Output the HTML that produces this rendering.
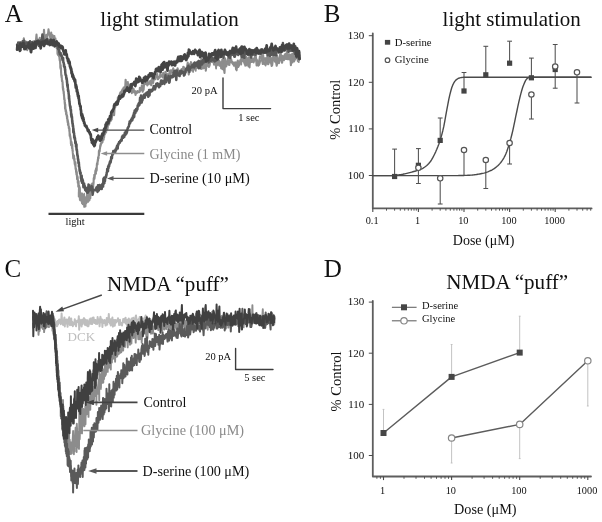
<!DOCTYPE html>
<html>
<head>
<meta charset="utf-8">
<title>Figure</title>
<style>
html,body{margin:0;padding:0;background:#fff;}
body{width:602px;height:522px;overflow:hidden;font-family:"Liberation Serif",serif;}
svg{display:block;filter:grayscale(1);}
svg text{font-family:"Liberation Serif",serif;}
</style>
</head>
<body>
<svg width="602" height="522" viewBox="0 0 602 522">
<rect x="0" y="0" width="602" height="522" fill="#ffffff"/>
<!-- Panel A -->
<text x="4.7" y="21.8" font-size="25" fill="#101010" text-anchor="start" >A</text>
<text x="100.3" y="26.0" font-size="21.5" fill="#101010" text-anchor="start" textLength="138.5" lengthAdjust="spacingAndGlyphs">light stimulation</text>
<path d="M17.1 45.1 L17.4 44.1 L17.8 47.5 L18.2 43.1 L18.7 48.7 L19.3 49.8 L19.9 42.4 L20.4 46.8 L21.0 50.1 L21.6 44.0 L22.1 45.1 L22.7 41.5 L23.2 43.9 L23.8 38.3 L24.4 42.2 L24.9 44.4 L25.5 43.2 L26.1 45.1 L26.6 41.9 L27.2 50.1 L27.7 45.3 L28.3 47.0 L28.9 42.5 L29.4 41.9 L30.0 46.2 L30.5 51.7 L31.1 48.9 L31.6 45.4 L32.2 49.5 L32.7 48.8 L33.2 44.3 L33.8 41.3 L34.3 44.3 L34.9 41.4 L35.4 43.2 L36.0 39.8 L36.5 34.5 L37.0 41.4 L37.6 44.7 L38.1 39.9 L38.7 40.0 L39.2 40.3 L39.8 37.8 L40.3 46.8 L40.8 41.2 L41.4 42.2 L41.9 40.2 L42.4 37.0 L43.0 37.6 L43.5 41.3 L44.0 29.7 L44.5 37.2 L45.0 42.3 L45.5 38.1 L46.0 35.9 L46.5 34.8 L47.0 39.8 L47.5 35.4 L48.0 34.5 L48.5 29.4 L49.1 33.3 L49.6 34.2 L50.1 36.9 L50.7 40.9 L51.2 32.6 L51.8 37.3 L52.3 38.9 L52.7 35.2 L53.1 40.2 L53.5 38.2 L53.8 36.4 L54.1 39.6 L54.4 36.1 L54.6 40.4 L54.8 41.2 L55.0 41.9 L55.2 44.5 L55.4 38.4 L55.6 44.0 L55.8 40.4 L56.0 45.1 L56.2 42.2 L56.4 45.5 L56.5 44.3 L56.7 48.3 L56.8 44.6 L57.0 47.8 L57.1 45.5 L57.2 47.7 L57.3 47.5 L57.4 48.9 L57.5 53.9 L57.6 50.0 L57.7 50.1 L57.9 54.8 L58.0 53.4 L58.1 55.3 L58.2 53.7 L58.3 51.9 L58.4 55.2 L58.5 54.7 L58.6 55.3 L58.8 54.9 L58.9 52.6 L59.0 56.3 L59.1 56.4 L59.2 55.7 L59.3 56.8 L59.4 57.1 L59.5 58.5 L59.7 60.3 L59.8 58.9 L59.9 60.9 L60.0 59.7 L60.0 59.8 L60.1 61.5 L60.2 64.3 L60.3 64.0 L60.3 67.0 L60.4 67.9 L60.5 67.6 L60.6 69.0 L60.6 65.4 L60.7 65.2 L60.8 69.0 L60.8 67.5 L60.9 68.3 L61.0 67.9 L61.0 69.4 L61.1 72.7 L61.2 74.0 L61.2 75.2 L61.3 75.1 L61.4 74.9 L61.5 77.1 L61.5 77.3 L61.6 75.7 L61.7 75.4 L61.7 75.4 L61.8 79.0 L61.9 78.6 L61.9 80.0 L62.0 80.9 L62.1 81.5 L62.2 81.6 L62.2 81.3 L62.3 80.6 L62.4 81.2 L62.4 81.4 L62.5 81.7 L62.6 81.9 L62.6 84.4 L62.7 83.8 L62.7 85.2 L62.8 88.3 L62.9 87.0 L62.9 86.0 L63.0 88.7 L63.0 90.0 L63.1 88.6 L63.2 89.4 L63.2 89.7 L63.3 88.6 L63.3 90.7 L63.4 91.1 L63.5 90.7 L63.5 90.7 L63.6 92.5 L63.6 92.0 L63.7 93.6 L63.8 91.8 L63.8 93.6 L63.9 94.1 L63.9 93.7 L64.0 96.2 L64.0 94.6 L64.1 96.2 L64.2 99.1 L64.2 97.4 L64.3 99.7 L64.3 97.6 L64.4 98.6 L64.5 99.8 L64.5 99.1 L64.6 100.0 L64.6 100.4 L64.7 103.3 L64.8 102.7 L64.8 104.3 L64.9 102.3 L65.0 105.0 L65.0 108.6 L65.1 105.7 L65.2 105.0 L65.3 104.5 L65.4 109.9 L65.4 107.4 L65.5 109.3 L65.6 110.4 L65.7 111.8 L65.8 109.7 L65.9 112.1 L66.0 111.3 L66.1 111.0 L66.1 114.2 L66.2 112.6 L66.3 114.6 L66.4 112.2 L66.5 115.2 L66.6 115.8 L66.7 115.0 L66.8 115.2 L66.9 115.8 L66.9 115.0 L67.0 118.8 L67.1 118.6 L67.2 116.1 L67.3 118.4 L67.4 120.5 L67.5 120.8 L67.6 122.3 L67.6 122.1 L67.7 119.9 L67.8 121.0 L67.9 120.7 L68.0 124.9 L68.1 121.9 L68.2 123.8 L68.3 124.7 L68.4 123.2 L68.5 125.6 L68.6 125.8 L68.7 126.0 L68.8 128.1 L68.9 126.7 L69.0 126.7 L69.1 129.3 L69.2 128.4 L69.3 130.4 L69.4 131.0 L69.5 131.8 L69.5 128.4 L69.6 133.7 L69.7 136.0 L69.8 134.3 L69.9 133.9 L70.0 134.6 L70.1 135.7 L70.2 137.2 L70.3 136.1 L70.4 137.9 L70.5 138.8 L70.6 137.8 L70.7 138.6 L70.8 140.3 L70.9 143.6 L71.0 142.8 L71.1 145.3 L71.2 142.5 L71.3 143.3 L71.4 141.8 L71.5 143.6 L71.6 142.4 L71.7 144.9 L71.8 144.4 L71.9 144.4 L72.0 148.3 L72.1 146.3 L72.2 144.5 L72.3 145.8 L72.4 150.3 L72.5 148.2 L72.5 148.8 L72.6 151.3 L72.7 150.0 L72.8 152.9 L72.9 153.5 L73.0 154.8 L73.1 156.1 L73.2 157.4 L73.3 158.5 L73.4 157.0 L73.5 156.7 L73.6 156.9 L73.7 158.1 L73.8 155.3 L73.9 157.7 L74.0 155.8 L74.1 158.2 L74.2 158.9 L74.3 160.6 L74.4 160.4 L74.5 158.9 L74.5 161.2 L74.6 162.2 L74.7 163.7 L74.8 163.8 L74.9 164.9 L75.0 164.3 L75.1 163.2 L75.2 162.8 L75.3 166.3 L75.4 162.1 L75.5 163.7 L75.5 167.1 L75.6 169.0 L75.7 167.7 L75.8 169.6 L75.9 169.5 L76.0 168.8 L76.1 172.3 L76.2 169.6 L76.3 171.0 L76.4 173.9 L76.5 174.6 L76.5 174.3 L76.6 174.9 L76.7 173.3 L76.8 172.1 L76.9 176.1 L77.0 176.3 L77.1 179.1 L77.2 175.5 L77.3 177.8 L77.4 178.9 L77.5 176.6 L77.6 178.0 L77.7 177.0 L77.8 183.0 L77.9 180.0 L78.0 180.0 L78.1 182.8 L78.2 181.7 L78.3 186.8 L78.4 183.5 L78.5 182.2 L78.6 181.3 L78.7 185.6 L78.8 186.1 L78.9 187.1 L79.0 186.7 L79.1 185.8 L79.2 187.2 L79.3 188.3 L79.4 191.5 L79.5 191.5 L79.6 191.0 L79.7 187.4 L79.8 190.3 L80.0 195.5 L80.1 194.2 L80.2 192.4 L80.3 194.4 L80.4 198.6 L80.5 197.6 L80.7 199.1 L80.8 196.0 L81.0 199.1 L81.2 195.3 L81.5 201.0 L81.7 200.5 L82.1 199.0 L82.4 202.7 L82.8 204.1 L83.3 201.8 L83.8 200.4 L84.3 206.8 L84.8 201.4 L85.3 203.0 L85.9 203.3 L86.4 202.9 L86.9 201.7 L87.3 198.3 L87.7 196.1 L88.1 201.5 L88.4 197.0 L88.7 194.6 L89.0 199.5 L89.2 193.1 L89.4 195.4 L89.6 196.9 L89.8 195.9 L90.0 198.2 L90.2 193.2 L90.3 198.2 L90.5 190.1 L90.7 191.6 L90.8 191.9 L91.0 188.1 L91.1 191.6 L91.3 184.5 L91.4 186.4 L91.6 186.4 L91.7 189.1 L91.9 190.5 L92.0 188.4 L92.2 183.6 L92.3 188.3 L92.5 186.7 L92.6 189.1 L92.7 185.7 L92.9 185.4 L93.0 184.0 L93.1 188.7 L93.2 186.3 L93.3 185.1 L93.5 183.6 L93.6 182.8 L93.7 178.2 L93.8 179.8 L93.9 177.8 L94.1 177.2 L94.2 177.8 L94.3 174.9 L94.4 178.8 L94.6 177.7 L94.7 176.4 L94.8 176.1 L94.9 174.6 L95.0 174.3 L95.2 173.8 L95.3 171.6 L95.4 171.3 L95.5 170.2 L95.6 172.8 L95.8 172.4 L95.9 173.7 L96.0 170.9 L96.1 168.3 L96.2 168.7 L96.3 171.4 L96.4 168.2 L96.5 169.8 L96.6 168.0 L96.7 170.3 L96.8 165.7 L96.9 164.4 L97.0 163.3 L97.1 163.6 L97.2 163.7 L97.3 163.4 L97.4 162.6 L97.5 164.4 L97.6 161.0 L97.6 162.3 L97.7 160.9 L97.8 160.9 L97.9 159.1 L98.0 161.0 L98.1 157.2 L98.2 157.9 L98.3 157.6 L98.4 157.5 L98.5 158.4 L98.6 156.4 L98.7 155.5 L98.8 154.5 L98.9 151.1 L99.0 155.1 L99.1 151.9 L99.2 150.4 L99.3 152.3 L99.5 150.3 L99.6 150.5 L99.7 151.2 L99.8 149.2 L100.0 148.5 L100.1 146.6 L100.2 145.5 L100.4 146.7 L100.5 144.6 L100.6 145.6 L100.8 143.3 L100.9 144.9 L101.1 143.7 L101.2 143.9 L101.4 142.6 L101.6 143.1 L101.8 142.9 L102.0 142.6 L102.2 141.8 L102.4 142.2 L102.6 141.1 L102.8 139.2 L103.0 136.9 L103.2 138.0 L103.4 136.2 L103.6 139.6 L103.8 136.8 L104.1 137.3 L104.3 135.1 L104.5 134.5 L104.7 134.4 L105.0 134.1 L105.2 130.9 L105.4 130.4 L105.6 130.5 L105.9 129.6 L106.1 132.4 L106.3 130.4 L106.5 128.0 L106.8 128.5 L107.0 127.6 L107.2 127.7 L107.5 129.0 L107.7 127.3 L107.9 124.5 L108.2 124.7 L108.4 123.9 L108.6 125.1 L108.8 123.3 L109.1 124.3 L109.3 123.5 L109.5 121.9 L109.7 120.6 L109.9 121.7 L110.2 121.0 L110.4 120.6 L110.5 120.0 L110.7 120.9 L110.9 119.6 L111.1 120.4 L111.3 119.7 L111.5 118.5 L111.7 119.2 L111.8 114.9 L112.0 117.3 L112.2 114.8 L112.4 114.8 L112.6 113.0 L112.8 113.7 L112.9 111.2 L113.1 113.4 L113.3 110.8 L113.5 113.0 L113.7 110.3 L113.9 111.6 L114.1 115.2 L114.2 113.9 L114.4 111.0 L114.6 107.8 L114.8 107.2 L115.0 107.1 L115.2 107.4 L115.3 106.7 L115.5 105.2 L115.7 104.1 L115.9 103.2 L116.1 105.3 L116.3 104.9 L116.5 103.6 L116.6 103.9 L116.8 101.9 L117.1 103.8 L117.3 100.6 L117.5 100.9 L117.7 101.6 L117.9 97.3 L118.2 100.7 L118.4 99.5 L118.6 97.1 L118.9 98.6 L119.1 98.3 L119.4 99.1 L119.6 95.8 L119.8 94.3 L120.1 93.1 L120.3 96.3 L120.5 92.4 L120.8 93.7 L121.1 91.9 L121.3 92.4 L121.6 91.8 L121.9 90.4 L122.1 94.3 L122.4 91.2 L122.7 89.1 L123.0 93.2 L123.3 90.9 L123.6 87.5 L123.9 88.2 L124.2 87.3 L124.5 88.3 L124.9 87.4 L125.2 87.9 L125.6 79.7 L126.1 84.4 L126.5 89.3 L126.9 84.9 L127.4 83.7 L127.8 82.1 L128.2 87.3 L128.5 84.0 L128.9 87.2 L129.2 86.8 L129.5 85.8 L129.8 85.6 L130.1 89.8 L130.4 90.3 L130.8 88.2 L131.2 90.5 L131.5 88.7 L131.9 93.1 L132.3 91.6 L132.8 88.3 L133.2 91.0 L133.7 89.1 L134.1 92.5 L134.6 91.9 L135.1 91.1 L135.5 95.0 L136.0 92.9 L136.5 91.9 L137.0 92.9 L137.5 91.0 L138.0 92.3 L138.5 92.0 L139.0 91.5 L139.5 92.1 L139.9 87.7 L140.4 90.9 L140.9 88.6 L141.4 89.8 L141.8 85.6 L142.3 87.8 L142.7 91.8 L143.2 88.9 L143.6 90.0 L144.1 83.1 L144.5 83.2 L145.0 84.2 L145.5 83.0 L145.9 81.9 L146.4 84.0 L146.8 81.1 L147.3 85.4 L147.7 84.0 L148.2 84.3 L148.6 82.3 L149.1 82.7 L149.5 81.4 L150.0 83.6 L150.5 84.4 L150.9 80.5 L151.4 85.3 L151.8 79.5 L152.3 77.5 L152.7 81.6 L153.2 83.0 L153.6 79.5 L154.1 77.2 L154.6 72.1 L155.1 79.4 L155.6 76.6 L156.1 74.7 L156.6 76.7 L157.2 74.1 L157.7 79.3 L158.2 79.2 L158.8 76.7 L159.3 77.7 L159.8 77.5 L160.4 73.0 L160.9 76.3 L161.5 75.4 L162.0 75.5 L162.6 77.3 L163.2 72.9 L163.7 77.7 L164.3 76.4 L164.9 80.1 L165.4 71.9 L166.0 77.2 L166.6 73.5 L167.1 74.2 L167.7 77.0 L168.3 78.2 L168.8 74.5 L169.4 73.2 L170.0 70.6 L170.5 76.4 L171.1 70.2 L171.6 70.4 L172.2 70.8 L172.7 72.1 L173.2 68.3 L173.8 71.8 L174.3 71.9 L174.8 73.3 L175.4 70.5 L175.9 77.6 L176.5 73.4 L177.0 74.1 L177.6 68.2 L178.2 71.1 L178.7 75.4 L179.3 74.0 L179.9 70.6 L180.4 71.5 L181.0 74.3 L181.6 69.0 L182.1 71.7 L182.7 71.6 L183.3 66.7 L183.8 75.7 L184.4 67.5 L185.0 74.6 L185.5 70.3 L186.1 72.0 L186.6 70.1 L187.2 65.6 L187.7 62.6 L188.2 69.9 L188.8 74.5 L189.3 64.4 L189.8 66.5 L190.4 69.3 L190.9 62.1 L191.5 70.1 L192.0 70.6 L192.5 68.9 L193.1 67.6 L193.6 63.1 L194.1 64.9 L194.7 63.6 L195.2 65.7 L195.7 66.6 L196.3 67.6 L196.8 66.2 L197.3 66.8 L197.9 66.7 L198.4 60.8 L198.9 65.5 L199.5 68.0 L200.1 67.2 L200.6 67.3 L201.2 69.0 L201.8 62.9 L202.3 64.6 L202.9 66.5 L203.5 64.4 L204.1 68.0 L204.7 58.1 L205.2 60.5 L205.8 70.6 L206.4 66.3 L207.0 66.1 L207.6 60.9 L208.1 64.8 L208.7 66.2 L209.3 65.5 L209.9 62.6 L210.4 62.3 L211.0 61.1 L211.6 61.5 L212.1 62.0 L212.7 60.6 L213.3 59.3 L213.9 61.9 L214.4 64.5 L215.0 61.7 L215.6 60.6 L216.1 61.5 L216.7 65.5 L217.2 62.3 L217.8 61.8 L218.4 64.8 L218.9 60.6 L219.5 61.0 L220.1 62.2 L220.6 62.5 L221.2 68.3 L221.8 64.5 L222.3 59.5 L222.9 62.7 L223.4 59.1 L224.0 69.0 L224.5 72.9 L225.1 59.9 L225.6 62.6 L226.2 66.4 L226.7 65.0 L227.3 61.5 L227.8 59.0 L228.4 63.1 L228.9 62.1 L229.5 60.9 L230.0 60.5 L230.6 59.5 L231.2 59.3 L231.7 61.4 L232.2 61.9 L232.8 63.9 L233.4 64.0 L233.9 65.7 L234.5 64.4 L235.0 63.7 L235.6 65.7 L236.1 69.4 L236.7 63.3 L237.3 62.3 L237.8 60.6 L238.4 61.8 L239.0 65.6 L239.5 64.6 L240.1 61.8 L240.7 59.7 L241.2 61.2 L241.8 60.8 L242.3 59.1 L242.9 57.4 L243.5 61.3 L244.0 61.0 L244.6 63.8 L245.2 62.7 L245.7 58.8 L246.3 57.0 L246.9 63.1 L247.4 59.7 L248.0 58.3 L248.6 66.5 L249.1 58.5 L249.7 62.9 L250.3 58.4 L250.9 57.0 L251.4 62.0 L252.0 61.2 L252.6 61.4 L253.1 60.5 L253.7 60.1 L254.3 60.6 L254.9 56.6 L255.4 53.8 L256.0 57.7 L256.6 65.4 L257.1 61.2 L257.7 62.5 L258.3 65.6 L258.9 64.8 L259.4 59.7 L260.0 56.3 L260.5 57.6 L261.1 56.5 L261.7 56.6 L262.2 60.5 L262.8 64.0 L263.3 63.6 L263.9 59.8 L264.4 58.3 L265.0 58.3 L265.6 58.2 L266.1 61.0 L266.7 63.8 L267.2 63.7 L267.8 57.8 L268.3 64.3 L268.9 61.3 L269.4 56.2 L270.0 62.3 L270.6 58.0 L271.1 63.2 L271.7 66.0 L272.2 65.2 L272.8 59.8 L273.3 56.5 L273.9 60.1 L274.5 58.6 L275.0 61.6 L275.6 54.5 L276.1 62.3 L276.7 65.7 L277.3 62.5 L277.8 58.7 L278.4 62.7 L279.0 63.2 L279.5 58.6 L280.1 55.9 L280.7 51.9 L281.2 60.4 L281.8 56.2 L282.3 59.7 L282.9 58.6 L283.5 59.5 L284.0 57.8 L284.6 55.3 L285.2 54.0 L285.7 58.3 L286.3 56.8 L286.9 51.3 L287.4 54.8 L288.0 59.3 L288.6 54.6 L289.1 54.9 L289.7 54.4 L290.3 55.3 L290.9 65.2 L291.4 56.9 L292.0 54.1 L292.6 56.0 L293.1 58.3 L293.7 52.3 L294.3 52.2 L294.9 59.7 L295.4 55.4 L296.0 56.0 L296.6 56.6 L297.1 55.3 L297.7 54.6 L298.2 56.4 L298.7 61.9 L299.0 51.8 L299.4 52.7" fill="none" stroke="#8c8c8c" stroke-width="2.1" stroke-linejoin="round" stroke-linecap="round" />
<path d="M78.6 192.2 L78.6 196.8 L78.7 189.1 L78.7 190.0 L78.8 187.8 L78.9 188.0 L79.0 190.0 L79.0 194.0 L79.1 191.3 L79.2 189.5 L79.3 195.5 L79.3 196.0 L79.4 193.3 L79.5 190.4 L79.6 197.9 L79.7 199.9 L79.7 188.2 L79.8 196.2 L79.9 192.4 L80.0 200.5 L80.0 194.1 L80.1 199.5 L80.2 197.7 L80.3 195.4 L80.4 196.1 L80.5 196.4 L80.6 196.8 L80.7 193.1 L80.9 193.0 L81.0 196.5 L81.2 198.7 L81.4 195.0 L81.6 201.0 L81.8 203.1 L81.9 194.7 L82.1 196.1 L82.3 193.4 L82.5 201.5 L82.7 194.6 L82.9 199.5 L83.1 198.2 L83.3 202.7 L83.5 204.1 L83.7 203.3 L83.9 201.1 L84.2 193.6 L84.4 199.7 L84.6 199.1 L84.8 197.9 L85.1 202.2 L85.3 201.1 L85.5 203.0 L85.7 206.6 L85.9 196.8 L86.1 197.4 L86.3 198.6 L86.5 198.7 L86.7 194.5 L86.9 195.0 L87.1 196.0 L87.2 192.8 L87.4 199.3 L87.6 196.0 L87.8 191.4 L88.0 196.0 L88.1 202.0 L88.3 193.5 L88.4 195.4 L88.5 195.2 L88.6 192.7 L88.7 199.4 L88.8 194.8 L88.9 198.7 L89.0 197.7 L89.1 195.2 L89.2 199.0 L89.2 192.4 L89.3 197.5 L89.4 200.7 L89.5 197.6 L89.6 200.1 L89.7 200.3 L89.7 194.1 L89.8 190.9 L89.9 195.2 L90.0 194.5 L90.1 189.4 L90.2 194.0 L90.2 191.4 L90.3 189.0 L90.4 189.3 L90.4 193.0" fill="none" stroke="#909090" stroke-width="1.6" stroke-linejoin="round" stroke-linecap="round" />
<path d="M192.3 67.9 L192.6 66.0 L193.1 72.0 L193.6 63.0 L194.1 65.4 L194.7 69.3 L195.2 69.2 L195.7 70.8 L196.3 65.3 L196.8 67.5 L197.3 63.6 L197.9 64.5 L198.4 68.1 L198.9 68.9 L199.5 66.8 L200.0 63.9 L200.6 68.6 L201.2 58.7 L201.8 63.8 L202.3 66.1 L202.9 68.7 L203.5 66.1 L204.1 63.3 L204.7 64.0 L205.3 61.8 L205.8 66.2 L206.4 65.3 L207.0 62.4 L207.6 62.3 L208.1 61.6 L208.7 67.0 L209.3 66.9 L209.9 63.2 L210.4 58.8 L211.0 59.2 L211.6 60.4 L212.1 61.5 L212.7 62.3 L213.3 60.7 L213.9 64.6 L214.4 63.8 L215.0 58.8 L215.6 64.4 L216.1 68.7 L216.7 58.5 L217.2 62.2 L217.8 61.1 L218.4 63.8 L218.9 64.0 L219.5 65.9 L220.1 63.5 L220.6 64.2 L221.2 63.5 L221.8 62.0 L222.3 69.1 L222.9 64.9 L223.4 69.9 L224.0 68.9 L224.5 65.0 L225.1 58.2 L225.7 62.9 L226.2 62.8 L226.8 62.6 L227.3 64.0 L227.8 62.1 L228.4 63.0 L228.9 65.1 L229.5 65.1 L230.1 58.1 L230.6 60.5 L231.2 62.5 L231.7 62.5 L232.2 62.5 L232.8 62.0 L233.4 62.9 L233.9 63.9 L234.5 63.2 L235.0 62.1 L235.6 66.5 L236.1 62.5 L236.7 70.5 L237.3 64.3 L237.8 66.4 L238.4 67.1 L239.0 62.3 L239.5 63.3 L240.1 61.5 L240.7 59.1 L241.2 64.7 L241.8 56.9 L242.3 60.2 L242.9 60.1 L243.5 61.6 L244.0 60.0 L244.6 62.3 L245.2 65.9 L245.7 62.7 L246.3 58.3 L246.9 65.6 L247.4 63.6 L248.0 63.3 L248.6 57.9 L249.1 59.1 L249.7 67.5 L250.3 57.1 L250.9 61.6 L251.4 58.0 L252.0 60.9 L252.6 61.9 L253.1 58.3 L253.7 62.6 L254.3 59.6 L254.9 58.8 L255.4 57.0 L256.0 60.7 L256.6 59.4 L257.1 61.3 L257.7 60.5 L258.3 62.5 L258.9 63.0 L259.4 64.6 L260.0 62.0 L260.6 61.0 L261.1 60.2 L261.7 53.3 L262.2 57.8 L262.8 61.5 L263.3 54.9 L263.9 62.2 L264.4 64.3 L265.0 62.6 L265.6 65.7 L266.1 58.3 L266.7 62.0 L267.2 55.0 L267.8 57.0 L268.3 55.3 L268.9 49.5 L269.4 58.6 L270.0 62.3 L270.6 57.2 L271.1 59.2 L271.7 63.6 L272.2 58.1 L272.8 60.3 L273.3 59.2 L273.9 52.8 L274.4 60.4 L275.0 56.3 L275.6 60.2 L276.1 55.6 L276.7 58.8 L277.3 55.7 L277.8 60.5 L278.4 62.4 L279.0 60.7 L279.5 57.9 L280.1 54.6 L280.7 60.2 L281.2 60.1 L281.8 62.9 L282.3 62.8 L282.9 55.6 L283.5 60.0 L284.0 60.4 L284.6 56.4 L285.2 55.1 L285.7 59.2 L286.3 54.4 L286.9 59.1 L287.4 59.0 L288.0 56.3 L288.6 56.1 L289.1 56.4 L289.7 59.7 L290.3 59.4 L290.9 55.9 L291.4 60.8 L292.0 61.8 L292.6 62.6 L293.1 55.6 L293.7 58.3 L294.3 61.5 L294.9 56.0 L295.4 58.7 L296.0 54.8 L296.6 58.4 L297.1 55.5 L297.7 61.1 L298.3 53.2 L298.9 54.0 L299.3 55.3 L299.7 55.1" fill="none" stroke="#8c8c8c" stroke-width="1.8" stroke-linejoin="round" stroke-linecap="round" />
<path d="M17.1 44.9 L17.4 45.0 L17.8 48.6 L18.2 42.5 L18.7 46.8 L19.3 44.8 L19.9 47.7 L20.4 42.6 L21.0 43.3 L21.6 45.1 L22.1 44.7 L22.7 41.2 L23.2 42.1 L23.8 40.7 L24.4 40.9 L24.9 44.4 L25.5 49.0 L26.1 44.9 L26.6 45.4 L27.2 42.6 L27.7 44.1 L28.3 47.4 L28.9 45.5 L29.4 44.8 L30.0 41.3 L30.6 45.6 L31.1 42.8 L31.7 43.8 L32.3 42.0 L32.8 43.6 L33.4 48.8 L34.0 46.0 L34.5 43.8 L35.1 42.7 L35.7 48.0 L36.2 44.4 L36.8 44.1 L37.3 42.5 L37.9 41.4 L38.5 40.5 L39.0 46.1 L39.6 46.0 L40.2 41.5 L40.7 43.1 L41.3 39.9 L41.9 41.0 L42.4 34.5 L43.0 38.4 L43.6 40.7 L44.1 43.6 L44.7 42.1 L45.2 42.1 L45.8 40.4 L46.4 42.7 L46.9 42.7 L47.5 39.2 L48.1 44.3 L48.6 42.0 L49.2 41.4 L49.8 45.2 L50.3 39.9 L50.9 41.4 L51.4 42.8 L52.0 40.3 L52.6 40.4 L53.1 41.7 L53.7 40.0 L54.2 43.1 L54.8 41.9 L55.2 42.1 L55.6 42.8 L56.0 42.3 L56.4 42.9 L56.7 42.4 L57.0 46.1 L57.2 44.5 L57.5 45.6 L57.8 45.6 L58.0 48.7 L58.2 49.0 L58.5 48.3 L58.7 49.5 L59.0 49.2 L59.2 50.3 L59.4 52.6 L59.6 52.5 L59.8 54.3 L60.0 53.3 L60.2 53.7 L60.4 53.2 L60.6 53.0 L60.8 55.2 L61.0 55.5 L61.1 55.3 L61.3 54.5 L61.5 56.3 L61.7 56.9 L61.9 56.0 L62.0 56.2 L62.2 58.8 L62.4 58.5 L62.6 60.3 L62.8 59.3 L62.9 60.7 L63.1 57.9 L63.3 62.1 L63.4 62.5 L63.5 62.2 L63.7 63.2 L63.8 63.1 L63.9 64.5 L64.0 66.4 L64.1 64.4 L64.2 65.4 L64.3 66.2 L64.4 66.2 L64.5 66.1 L64.6 67.6 L64.7 68.0 L64.8 66.7 L64.9 67.4 L65.0 70.2 L65.1 70.1 L65.2 69.3 L65.2 70.7 L65.3 72.8 L65.4 73.3 L65.5 74.4 L65.6 74.9 L65.7 75.2 L65.8 75.0 L65.9 75.5 L66.0 75.7 L66.1 75.3 L66.2 77.4 L66.3 76.9 L66.4 78.9 L66.5 77.7 L66.6 78.3 L66.7 78.3 L66.8 80.9 L66.9 79.8 L67.0 82.8 L67.1 81.5 L67.1 81.7 L67.2 85.4 L67.3 84.6 L67.4 84.4 L67.4 85.5 L67.5 87.0 L67.6 87.0 L67.6 84.6 L67.7 84.6 L67.8 87.5 L67.9 88.0 L67.9 90.1 L68.0 90.4 L68.1 89.5 L68.1 90.0 L68.2 91.7 L68.3 90.3 L68.4 92.0 L68.4 92.1 L68.5 91.6 L68.6 93.7 L68.6 93.3 L68.7 94.0 L68.8 94.9 L68.9 97.4 L68.9 98.7 L69.0 98.8 L69.1 95.8 L69.1 98.4 L69.2 98.0 L69.3 99.4 L69.4 100.8 L69.4 101.5 L69.5 101.0 L69.6 101.6 L69.6 102.9 L69.7 103.1 L69.8 104.8 L69.9 105.7 L69.9 105.8 L70.0 105.3 L70.1 106.8 L70.2 106.4 L70.2 106.8 L70.3 107.1 L70.4 108.6 L70.5 106.6 L70.6 110.2 L70.6 107.5 L70.7 108.7 L70.8 109.1 L70.9 109.3 L70.9 111.4 L71.0 110.2 L71.1 114.9 L71.2 113.6 L71.3 113.6 L71.3 114.6 L71.4 116.6 L71.5 114.2 L71.6 115.5 L71.7 115.8 L71.7 117.4 L71.8 117.6 L71.9 116.4 L72.0 117.2 L72.1 119.4 L72.1 119.5 L72.2 121.5 L72.3 122.2 L72.4 120.8 L72.4 123.5 L72.5 122.5 L72.6 123.7 L72.7 124.7 L72.8 123.7 L72.8 126.2 L72.9 125.5 L73.0 125.5 L73.1 126.3 L73.2 127.6 L73.3 132.1 L73.3 129.3 L73.4 129.4 L73.5 128.8 L73.6 130.8 L73.7 131.2 L73.8 131.4 L73.9 133.3 L74.0 132.7 L74.0 133.3 L74.1 133.3 L74.2 137.7 L74.3 135.6 L74.4 135.7 L74.5 136.8 L74.6 138.8 L74.6 137.7 L74.7 137.1 L74.8 138.8 L74.9 139.6 L75.0 138.0 L75.1 140.0 L75.2 140.3 L75.3 143.2 L75.3 142.7 L75.4 143.6 L75.5 142.5 L75.6 142.2 L75.7 141.8 L75.8 142.6 L75.9 145.0 L76.0 144.3 L76.0 146.7 L76.1 144.1 L76.2 146.9 L76.3 146.3 L76.4 147.7 L76.5 144.6 L76.5 149.2 L76.6 150.2 L76.7 149.6 L76.8 149.7 L76.9 150.8 L76.9 149.5 L77.0 151.2 L77.1 152.1 L77.2 154.0 L77.3 154.8 L77.3 155.0 L77.4 155.3 L77.5 154.9 L77.6 155.3 L77.6 156.6 L77.7 156.5 L77.8 155.9 L77.9 159.1 L78.0 158.2 L78.0 159.5 L78.1 158.9 L78.2 160.8 L78.3 159.6 L78.4 161.3 L78.4 163.1 L78.5 162.9 L78.6 163.4 L78.7 163.4 L78.8 163.4 L78.9 162.5 L78.9 166.5 L79.0 164.0 L79.1 166.7 L79.2 166.6 L79.3 167.2 L79.4 167.9 L79.6 170.9 L79.7 170.8 L79.8 171.7 L79.9 170.1 L80.0 171.1 L80.1 173.2 L80.2 173.6 L80.3 172.1 L80.4 173.4 L80.6 172.4 L80.7 174.4 L80.8 175.1 L80.9 178.1 L81.0 178.6 L81.1 177.3 L81.2 176.8 L81.3 179.3 L81.4 180.9 L81.6 175.4 L81.7 176.1 L81.8 177.9 L82.0 182.7 L82.1 179.7 L82.3 180.9 L82.5 179.3 L82.7 181.7 L82.9 180.5 L83.2 183.7 L83.4 187.2 L83.6 184.3 L83.8 186.9 L84.1 183.4 L84.3 186.0 L84.6 185.3 L84.9 187.9 L85.2 190.2 L85.6 187.7 L85.9 189.2 L86.3 191.3 L86.7 187.9 L87.2 192.8 L87.6 189.1 L88.1 192.4 L88.5 184.5 L89.0 185.2 L89.5 190.6 L90.0 190.1 L90.5 188.1 L91.0 187.4 L91.5 186.2 L92.1 186.6 L92.6 194.8 L93.2 191.2 L93.7 190.0 L94.3 190.1 L94.8 189.8 L95.4 190.2 L95.9 189.0 L96.5 187.3 L97.0 187.3 L97.5 191.9 L98.0 185.2 L98.5 190.8 L99.0 190.1 L99.6 185.0 L100.1 187.1 L100.7 188.6 L101.2 185.2 L101.7 189.1 L102.1 184.9 L102.5 183.8 L102.8 185.3 L103.1 186.6 L103.4 178.7 L103.6 184.0 L103.7 183.7 L103.9 181.2 L104.0 177.7 L104.2 179.2 L104.3 182.4 L104.4 183.1 L104.6 178.8 L104.7 181.2 L104.9 178.9 L105.0 180.9 L105.1 177.9 L105.3 178.6 L105.4 177.6 L105.5 176.8 L105.7 177.4 L105.8 176.9 L106.0 176.7 L106.1 177.1 L106.2 175.0 L106.4 175.4 L106.6 174.7 L106.7 172.6 L106.9 172.8 L107.1 172.4 L107.2 169.1 L107.4 171.0 L107.6 170.6 L107.8 169.8 L108.0 171.1 L108.1 166.5 L108.3 166.6 L108.5 168.2 L108.7 165.3 L108.9 166.2 L109.1 166.4 L109.3 164.0 L109.5 164.7 L109.7 162.5 L109.8 163.5 L110.0 161.4 L110.2 161.7 L110.4 161.1 L110.6 162.4 L110.8 161.4 L111.0 160.0 L111.2 157.1 L111.4 157.3 L111.5 157.8 L111.7 158.6 L111.9 158.3 L112.1 156.1 L112.3 153.8 L112.5 155.2 L112.7 153.7 L112.9 152.6 L113.1 154.0 L113.3 151.0 L113.5 151.6 L113.8 151.6 L114.0 151.3 L114.3 150.9 L114.6 150.8 L114.9 151.4 L115.2 152.2 L115.4 149.5 L115.7 150.3 L116.0 150.4 L116.3 148.9 L116.5 147.6 L116.8 147.7 L117.1 145.7 L117.4 146.4 L117.7 148.6 L118.0 144.2 L118.2 144.7 L118.5 144.7 L118.8 143.3 L119.1 141.9 L119.5 142.9 L119.8 142.7 L120.1 140.9 L120.4 141.4 L120.7 141.2 L121.0 139.8 L121.4 140.3 L121.7 140.5 L122.0 137.1 L122.3 136.7 L122.6 135.9 L122.9 137.8 L123.2 137.8 L123.5 136.7 L123.7 135.3 L124.0 135.9 L124.3 136.9 L124.6 134.1 L124.9 132.5 L125.2 135.1 L125.4 133.3 L125.7 134.5 L126.0 131.1 L126.2 131.6 L126.5 133.5 L126.7 132.6 L127.0 132.0 L127.2 130.7 L127.5 129.0 L127.7 128.0 L128.0 128.1 L128.2 127.2 L128.5 126.9 L128.7 126.8 L128.9 126.4 L129.2 123.7 L129.4 124.4 L129.6 121.6 L129.9 123.1 L130.1 123.2 L130.3 121.0 L130.6 121.0 L130.8 120.8 L131.0 119.9 L131.3 121.2 L131.5 119.5 L131.8 118.4 L132.1 118.1 L132.3 120.3 L132.6 118.7 L132.9 116.2 L133.1 118.3 L133.4 115.1 L133.7 116.4 L133.9 113.1 L134.2 116.9 L134.5 111.8 L134.7 110.4 L135.0 112.1 L135.3 113.0 L135.6 110.1 L135.8 110.6 L136.1 109.0 L136.4 111.3 L136.6 110.2 L136.9 110.0 L137.2 108.2 L137.4 109.4 L137.7 105.4 L137.9 105.9 L138.1 105.9 L138.3 106.1 L138.5 103.8 L138.7 105.8 L138.9 105.3 L139.1 102.9 L139.2 102.7 L139.4 105.2 L139.6 103.7 L139.8 102.4 L139.9 100.1 L140.1 97.7 L140.3 103.3 L140.5 97.8 L140.7 100.2 L141.0 95.6 L141.3 99.6 L141.7 102.5 L142.0 99.7 L142.4 100.6 L142.8 98.6 L143.3 96.6 L143.8 94.8 L144.2 96.8 L144.7 97.8 L145.1 95.9 L145.6 93.6 L146.0 94.9 L146.5 92.7 L146.9 92.8 L147.3 92.3 L147.8 92.6 L148.2 96.8 L148.7 92.1 L149.1 90.1 L149.5 95.5 L150.0 89.9 L150.4 91.1 L150.8 90.0 L151.2 91.6 L151.7 89.9 L152.1 91.1 L152.5 90.5 L152.9 89.8 L153.3 88.0 L153.8 86.0 L154.2 88.5 L154.6 87.5 L155.0 89.5 L155.4 88.0 L155.9 86.2 L156.3 83.8 L156.7 85.9 L157.2 84.6 L157.6 83.4 L158.0 85.0 L158.5 84.9 L158.9 87.3 L159.4 86.5 L159.8 84.1 L160.2 86.1 L160.7 82.2 L161.1 80.4 L161.6 80.5 L162.0 84.1 L162.5 82.6 L163.0 82.2 L163.4 80.8 L163.9 83.1 L164.4 83.9 L164.9 80.3 L165.5 75.3 L166.0 82.2 L166.5 80.1 L167.0 79.1 L167.5 78.4 L168.0 79.7 L168.5 76.1 L169.0 82.7 L169.5 82.3 L170.0 78.8 L170.5 76.8 L171.0 76.1 L171.5 77.4 L172.0 76.9 L172.5 77.2 L173.0 76.9 L173.5 72.8 L173.9 76.2 L174.4 71.1 L174.9 75.5 L175.4 70.9 L175.8 72.6 L176.3 80.0 L176.8 70.4 L177.3 72.5 L177.7 75.1 L178.2 73.7 L178.7 73.7 L179.2 75.6 L179.6 76.0 L180.1 71.2 L180.6 73.5 L181.1 70.7 L181.6 72.4 L182.1 72.8 L182.6 71.7 L183.1 72.0 L183.6 73.3 L184.1 75.4 L184.6 73.8 L185.2 72.8 L185.7 70.1 L186.2 68.8 L186.8 68.8 L187.3 67.8 L187.8 69.7 L188.4 65.7 L188.9 67.3 L189.4 72.1 L189.9 68.5 L190.5 68.2 L191.0 66.7 L191.5 66.9 L192.1 65.2 L192.6 67.2 L193.1 65.1 L193.6 64.1 L194.2 67.6 L194.7 62.5 L195.2 62.8 L195.8 65.9 L196.3 65.6 L196.8 63.6 L197.4 62.0 L197.9 63.9 L198.4 67.8 L198.9 61.1 L199.5 64.9 L200.0 67.8 L200.6 62.3 L201.1 61.3 L201.6 64.6 L202.2 64.2 L202.7 61.8 L203.3 59.2 L203.8 62.5 L204.4 59.2 L204.9 60.1 L205.5 60.7 L206.0 60.2 L206.5 58.0 L207.1 60.1 L207.6 57.7 L208.2 60.8 L208.7 62.4 L209.3 58.1 L209.8 57.2 L210.4 59.3 L210.9 60.9 L211.5 57.2 L212.0 60.3 L212.5 60.1 L213.1 58.5 L213.6 60.4 L214.2 58.4 L214.7 61.4 L215.3 60.0 L215.8 56.4 L216.4 60.4 L216.9 57.0 L217.5 53.9 L218.0 59.3 L218.5 54.2 L219.1 55.5 L219.6 57.2 L220.2 54.2 L220.7 54.7 L221.3 56.6 L221.8 55.8 L222.4 51.9 L222.9 54.3 L223.5 57.7 L224.0 51.7 L224.6 54.2 L225.2 50.5 L225.7 51.8 L226.3 54.5 L226.9 52.4 L227.4 52.8 L228.0 53.5 L228.6 57.5 L229.1 52.7 L229.7 54.7 L230.3 57.9 L230.9 52.8 L231.4 53.8 L232.0 53.3 L232.6 54.8 L233.1 53.3 L233.7 51.7 L234.3 56.7 L234.8 56.8 L235.4 53.8 L236.0 54.2 L236.5 53.6 L237.1 51.0 L237.7 53.1 L238.2 55.0 L238.8 52.8 L239.3 53.7 L239.9 52.7 L240.5 52.9 L241.0 47.8 L241.6 57.0 L242.2 56.9 L242.7 54.2 L243.3 54.2 L243.9 54.1 L244.4 58.0 L245.0 51.4 L245.5 49.7 L246.1 50.9 L246.7 49.8 L247.2 53.2 L247.8 54.0 L248.3 54.5 L248.9 55.3 L249.4 48.9 L250.0 52.0 L250.6 53.9 L251.1 57.6 L251.7 53.7 L252.2 53.5 L252.8 54.6 L253.3 53.3 L253.9 53.4 L254.4 54.5 L255.0 50.6 L255.6 54.7 L256.1 51.7 L256.7 48.8 L257.2 52.7 L257.8 49.7 L258.3 52.7 L258.9 51.3 L259.4 51.0 L260.0 50.6 L260.6 49.7 L261.1 53.5 L261.7 50.5 L262.2 49.6 L262.8 51.0 L263.3 52.4 L263.9 52.0 L264.4 51.5 L265.0 49.5 L265.6 51.9 L266.1 52.7 L266.7 51.1 L267.2 52.8 L267.8 55.3 L268.3 51.7 L268.9 53.8 L269.4 54.0 L270.0 55.9 L270.6 50.2 L271.1 54.8 L271.7 52.6 L272.2 52.9 L272.8 48.4 L273.3 55.1 L273.9 51.9 L274.5 53.5 L275.0 54.7 L275.6 48.9 L276.1 55.3 L276.7 50.2 L277.3 48.7 L277.8 49.5 L278.4 50.2 L279.0 50.8 L279.5 49.2 L280.1 50.6 L280.7 52.0 L281.2 50.1 L281.8 49.0 L282.3 51.5 L282.9 43.1 L283.5 49.0 L284.0 48.2 L284.6 48.6 L285.2 50.2 L285.7 47.1 L286.3 49.0 L286.9 49.1 L287.5 49.2 L288.0 48.6 L288.6 51.9 L289.2 49.9 L289.8 48.2 L290.4 49.8 L291.0 50.9 L291.6 49.0 L292.2 50.2 L292.7 49.3 L293.2 50.6 L293.7 49.7 L294.2 48.3 L294.6 51.1 L295.0 53.9 L295.3 46.2 L295.7 48.2 L296.0 51.8 L296.3 51.8 L296.7 49.7 L297.0 57.2 L297.3 52.7 L297.7 54.0 L298.0 52.7 L298.3 57.1 L298.7 56.0 L299.0 53.7 L299.2 58.8 L299.4 56.8 L299.6 58.9" fill="none" stroke="#585858" stroke-width="2.5" stroke-linejoin="round" stroke-linecap="round" />
<path d="M17.1 49.7 L17.4 45.5 L17.8 48.1 L18.2 49.2 L18.7 49.0 L19.3 46.3 L19.9 50.8 L20.4 43.6 L21.0 47.0 L21.6 46.0 L22.1 45.8 L22.7 46.7 L23.2 43.0 L23.8 43.4 L24.4 49.1 L24.9 47.9 L25.5 48.7 L26.1 46.5 L26.6 47.4 L27.2 46.2 L27.7 45.6 L28.3 46.0 L28.9 42.6 L29.4 48.4 L30.0 44.6 L30.6 45.4 L31.1 52.1 L31.7 45.4 L32.3 44.1 L32.8 43.3 L33.4 48.5 L34.0 46.3 L34.5 48.0 L35.1 41.9 L35.7 46.0 L36.2 41.8 L36.8 43.4 L37.3 41.1 L37.9 41.5 L38.5 43.3 L39.0 41.6 L39.6 42.5 L40.2 44.9 L40.7 48.4 L41.3 44.5 L41.9 42.2 L42.4 44.4 L43.0 41.6 L43.6 44.2 L44.1 46.0 L44.7 43.9 L45.2 40.9 L45.8 43.8 L46.4 43.3 L46.9 39.5 L47.5 42.6 L48.1 43.6 L48.6 43.2 L49.2 42.6 L49.8 42.3 L50.3 44.7 L50.9 39.8 L51.4 43.0 L52.0 41.2 L52.5 45.2 L53.1 43.6 L53.6 40.2 L54.2 44.6 L54.7 46.3 L55.3 44.3 L55.8 42.0 L56.4 43.1 L56.9 41.5 L57.3 44.1 L57.8 44.9 L58.3 43.4 L58.7 43.5 L59.1 45.5 L59.5 46.7 L60.0 46.0 L60.4 46.3 L60.8 45.6 L61.1 48.2 L61.5 47.7 L61.8 46.5 L62.1 46.3 L62.4 46.9 L62.7 47.1 L63.0 49.9 L63.2 50.2 L63.5 51.4 L63.7 51.7 L64.0 51.1 L64.2 54.0 L64.5 54.4 L64.8 52.6 L65.0 53.2 L65.2 51.9 L65.5 52.1 L65.7 50.4 L66.0 53.3 L66.2 53.8 L66.4 55.0 L66.7 54.2 L66.9 56.3 L67.1 58.2 L67.3 57.4 L67.5 58.6 L67.7 59.6 L67.9 60.3 L68.1 61.5 L68.3 59.2 L68.5 59.9 L68.7 63.2 L68.9 61.6 L69.1 61.4 L69.3 63.6 L69.5 61.6 L69.7 62.8 L69.9 66.1 L70.1 66.8 L70.3 66.1 L70.5 68.0 L70.7 67.2 L70.8 67.8 L71.0 69.5 L71.2 68.6 L71.4 69.9 L71.5 73.2 L71.7 71.4 L71.9 71.9 L72.0 74.2 L72.2 74.5 L72.4 76.5 L72.6 74.6 L72.7 74.3 L72.9 77.1 L73.1 76.5 L73.3 76.0 L73.4 78.7 L73.6 77.4 L73.8 78.4 L73.9 77.9 L74.1 78.5 L74.3 80.0 L74.4 79.1 L74.6 81.4 L74.7 80.5 L74.9 79.8 L75.0 79.6 L75.1 79.9 L75.3 82.2 L75.4 83.6 L75.5 84.5 L75.6 86.2 L75.7 84.8 L75.8 87.7 L76.0 87.7 L76.1 85.0 L76.2 86.2 L76.3 86.6 L76.4 88.4 L76.5 86.7 L76.7 88.8 L76.8 91.4 L76.9 91.3 L77.0 89.7 L77.1 90.2 L77.2 90.6 L77.3 92.1 L77.5 91.8 L77.6 94.1 L77.7 94.7 L77.8 94.8 L77.9 93.2 L78.0 96.4 L78.2 96.4 L78.3 96.3 L78.4 97.8 L78.5 95.5 L78.6 95.7 L78.7 96.4 L78.8 98.6 L78.9 100.0 L79.0 99.1 L79.2 101.1 L79.3 103.0 L79.4 103.8 L79.5 103.4 L79.6 103.3 L79.7 104.3 L79.8 104.6 L79.9 105.3 L80.0 105.2 L80.1 106.3 L80.2 105.7 L80.3 106.6 L80.5 106.8 L80.6 106.1 L80.7 109.8 L80.8 109.2 L80.9 110.1 L81.0 110.4 L81.1 111.3 L81.2 114.1 L81.3 114.0 L81.4 115.6 L81.5 115.2 L81.6 113.9 L81.8 116.1 L81.9 116.0 L82.0 117.0 L82.1 117.7 L82.2 114.3 L82.3 116.4 L82.5 116.5 L82.6 115.9 L82.8 119.6 L82.9 118.3 L83.1 119.9 L83.3 117.7 L83.4 121.0 L83.6 119.2 L83.8 120.7 L84.0 121.6 L84.1 123.2 L84.3 122.2 L84.5 123.6 L84.7 124.1 L84.9 125.5 L85.2 125.6 L85.5 126.2 L85.7 126.3 L86.0 126.7 L86.4 126.0 L86.7 127.1 L87.0 128.4 L87.3 128.3 L87.6 129.7 L87.8 130.8 L88.1 130.3 L88.3 130.6 L88.6 129.9 L88.8 131.4 L89.1 132.5 L89.3 132.2 L89.5 132.2 L89.7 132.2 L89.9 133.0 L90.1 134.4 L90.3 134.2 L90.5 134.6 L90.7 134.2 L90.9 136.2 L91.0 138.1 L91.2 138.5 L91.4 140.4 L91.6 140.3 L91.7 140.5 L91.9 142.6 L92.1 140.9 L92.2 141.4 L92.4 141.5 L92.6 139.4 L92.8 141.4 L92.9 141.1 L93.1 143.9 L93.3 144.4 L93.5 144.2 L93.7 143.4 L93.9 143.2 L94.1 144.0 L94.3 146.1 L94.5 144.3 L94.8 145.4 L95.0 141.3 L95.3 140.7 L95.5 142.6 L95.8 140.3 L96.0 140.4 L96.2 139.9 L96.5 140.3 L96.7 138.9 L97.0 139.2 L97.2 137.1 L97.5 137.6 L97.7 138.8 L97.9 136.6 L98.2 135.6 L98.4 136.7 L98.7 138.8 L98.9 136.6 L99.1 138.0 L99.4 137.5 L99.6 137.3 L99.8 140.5 L100.1 140.6 L100.3 140.6 L100.5 139.1 L100.8 137.4 L101.0 136.5 L101.3 139.7 L101.5 136.0 L101.7 138.3 L102.0 134.5 L102.2 135.9 L102.4 133.5 L102.7 134.0 L102.9 135.3 L103.1 134.6 L103.3 134.5 L103.5 132.9 L103.8 132.4 L104.0 129.4 L104.2 132.1 L104.3 128.8 L104.5 131.6 L104.7 129.7 L104.9 129.0 L105.1 127.5 L105.3 127.8 L105.5 128.6 L105.6 124.6 L105.8 126.2 L106.0 124.9 L106.2 126.6 L106.4 123.6 L106.6 122.6 L106.8 123.5 L107.1 124.3 L107.3 123.5 L107.5 124.0 L107.7 123.2 L107.9 121.6 L108.1 120.8 L108.3 119.4 L108.5 123.0 L108.7 120.3 L108.9 119.8 L109.2 118.5 L109.4 120.2 L109.6 119.6 L109.8 118.3 L110.0 116.2 L110.3 119.0 L110.5 116.2 L110.7 116.9 L111.0 115.7 L111.2 112.8 L111.4 112.0 L111.7 112.6 L111.9 111.5 L112.2 110.6 L112.4 110.8 L112.6 111.5 L112.9 110.1 L113.1 109.4 L113.4 109.2 L113.6 108.7 L113.8 108.2 L114.1 105.3 L114.4 105.6 L114.6 104.2 L114.9 104.7 L115.2 104.2 L115.5 104.8 L115.9 103.2 L116.2 103.6 L116.5 102.2 L116.9 104.4 L117.2 104.5 L117.6 104.1 L117.9 101.2 L118.3 101.7 L118.6 99.4 L119.0 98.6 L119.3 96.1 L119.7 98.8 L120.0 98.7 L120.3 98.1 L120.7 97.2 L121.0 96.3 L121.4 96.9 L121.7 97.0 L122.1 94.8 L122.4 94.7 L122.7 95.3 L123.1 96.3 L123.4 95.4 L123.8 94.3 L124.1 93.6 L124.5 90.9 L124.9 91.8 L125.3 90.4 L125.7 90.1 L126.0 90.6 L126.5 89.4 L126.9 88.6 L127.3 87.5 L127.7 90.6 L128.1 88.6 L128.5 90.9 L128.9 89.2 L129.3 92.0 L129.8 90.9 L130.2 87.4 L130.6 88.5 L131.0 84.4 L131.4 87.8 L131.9 84.2 L132.3 85.3 L132.7 83.8 L133.1 83.9 L133.6 84.1 L134.0 82.8 L134.4 81.8 L134.9 83.7 L135.3 86.1 L135.7 83.7 L136.2 78.6 L136.6 80.3 L137.1 82.4 L137.6 80.8 L138.1 79.1 L138.6 81.9 L139.2 76.9 L139.7 77.5 L140.3 78.6 L140.8 80.3 L141.4 81.2 L141.9 81.3 L142.4 83.0 L143.0 80.2 L143.5 80.6 L144.0 77.9 L144.5 77.5 L145.1 81.4 L145.6 76.5 L146.1 77.8 L146.6 78.6 L147.1 80.2 L147.6 78.2 L148.1 78.3 L148.6 75.1 L149.1 76.7 L149.6 75.8 L150.1 73.3 L150.5 76.1 L150.9 75.8 L151.4 75.8 L151.8 73.3 L152.2 75.3 L152.6 75.0 L153.1 76.0 L153.5 78.2 L153.9 75.2 L154.3 74.0 L154.7 74.3 L155.2 72.3 L155.6 71.1 L156.0 69.2 L156.5 68.7 L156.9 69.4 L157.4 71.2 L157.8 70.0 L158.3 68.2 L158.8 67.1 L159.2 71.2 L159.7 69.4 L160.2 69.8 L160.6 72.0 L161.1 68.5 L161.6 64.9 L162.1 64.2 L162.6 69.6 L163.1 62.8 L163.6 67.6 L164.2 62.0 L164.7 67.4 L165.3 66.9 L165.8 65.0 L166.4 64.2 L166.9 63.2 L167.5 70.7 L168.0 63.5 L168.6 65.5 L169.1 61.5 L169.7 63.1 L170.2 63.7 L170.8 63.5 L171.3 61.6 L171.8 65.1 L172.4 64.7 L172.9 64.9 L173.5 61.9 L174.0 64.3 L174.6 61.7 L175.1 65.5 L175.6 62.3 L176.2 62.9 L176.7 60.8 L177.2 62.3 L177.8 58.7 L178.3 56.8 L178.8 60.8 L179.4 60.1 L179.9 56.5 L180.4 60.9 L180.9 56.4 L181.5 60.8 L182.0 60.5 L182.5 57.5 L183.1 56.6 L183.6 58.6 L184.1 55.3 L184.7 54.4 L185.2 55.9 L185.7 59.3 L186.3 60.0 L186.8 58.3 L187.4 57.7 L187.9 52.9 L188.4 56.4 L188.9 49.7 L189.5 50.2 L190.0 52.8 L190.5 53.4 L191.0 53.6 L191.5 52.7 L192.0 53.9 L192.5 52.5 L193.0 51.2 L193.5 52.3 L194.1 53.9 L194.6 51.7 L195.1 49.8 L195.7 51.6 L196.2 51.0 L196.8 52.7 L197.3 52.9 L197.9 55.1 L198.5 51.7 L199.0 51.3 L199.6 49.8 L200.1 57.1 L200.7 52.8 L201.3 52.9 L201.8 51.9 L202.3 56.3 L202.8 53.4 L203.3 54.6 L203.8 53.2 L204.3 58.1 L204.7 57.8 L205.2 55.8 L205.6 52.5 L206.1 61.6 L206.5 58.8 L207.0 58.6 L207.5 58.3 L208.0 60.3 L208.5 58.9 L209.0 53.8 L209.5 57.5 L210.0 56.4 L210.5 55.9 L211.0 56.0 L211.5 53.7 L212.0 53.3 L212.5 53.5 L213.0 55.2 L213.5 53.6 L214.1 52.6 L214.6 52.2 L215.2 50.1 L215.7 57.9 L216.3 52.2 L216.9 55.5 L217.4 59.4 L218.0 51.3 L218.6 50.0 L219.1 54.2 L219.7 51.0 L220.3 52.4 L220.9 56.9 L221.4 49.8 L222.0 54.6 L222.6 54.1 L223.1 53.3 L223.7 52.6 L224.3 53.7 L224.9 49.9 L225.4 52.6 L226.0 52.2 L226.6 52.5 L227.1 54.6 L227.7 52.7 L228.3 55.1 L228.9 54.4 L229.4 51.9 L230.0 50.9 L230.5 53.1 L231.1 53.0 L231.7 51.5 L232.2 50.2 L232.8 47.9 L233.3 52.8 L233.9 48.4 L234.4 53.0 L235.0 51.5 L235.6 51.5 L236.1 46.6 L236.7 51.3 L237.2 50.2 L237.8 50.7 L238.3 49.9 L238.9 52.3 L239.4 52.7 L240.0 48.5 L240.6 54.0 L241.1 49.8 L241.7 46.6 L242.2 46.8 L242.8 52.8 L243.3 48.0 L243.9 50.4 L244.4 46.8 L245.0 49.4 L245.6 48.7 L246.1 50.3 L246.7 51.1 L247.2 54.4 L247.8 54.2 L248.3 52.0 L248.9 52.2 L249.4 49.7 L250.0 50.4 L250.6 54.4 L251.1 50.2 L251.7 50.8 L252.2 53.6 L252.8 50.3 L253.3 52.0 L253.9 51.5 L254.4 51.2 L255.0 49.7 L255.6 51.9 L256.1 52.8 L256.7 48.0 L257.2 50.6 L257.8 52.3 L258.3 53.6 L258.9 51.0 L259.4 52.6 L260.0 53.6 L260.6 51.2 L261.1 52.3 L261.7 49.5 L262.2 51.3 L262.8 52.0 L263.3 51.6 L263.9 52.7 L264.4 52.2 L265.0 48.9 L265.6 52.4 L266.1 49.5 L266.7 45.3 L267.2 51.5 L267.8 49.6 L268.3 51.0 L268.9 50.2 L269.4 50.8 L270.0 48.3 L270.6 47.0 L271.1 47.8 L271.7 43.8 L272.2 47.7 L272.8 49.2 L273.3 50.3 L273.9 49.6 L274.4 48.4 L275.0 47.1 L275.5 46.0 L276.1 49.4 L276.6 49.0 L277.2 48.7 L277.7 49.2 L278.2 50.0 L278.8 52.3 L279.3 49.6 L279.9 47.3 L280.4 50.0 L281.0 50.7 L281.5 51.5 L282.0 45.2 L282.6 45.0 L283.1 49.2 L283.7 46.8 L284.2 50.3 L284.8 45.8 L285.3 46.2 L285.8 45.9 L286.4 44.9 L286.9 44.5 L287.5 48.5 L288.0 48.4 L288.5 48.1 L289.1 43.5 L289.6 48.4 L290.2 47.1 L290.7 47.8 L291.3 45.5 L291.8 46.2 L292.3 47.4 L292.8 50.6 L293.3 46.6 L293.8 43.9 L294.2 48.1 L294.6 46.8 L295.0 50.2 L295.3 48.6 L295.7 50.8 L296.0 51.0 L296.4 56.5 L296.7 49.5 L297.1 48.2 L297.5 51.0 L297.9 55.6 L298.3 52.1 L298.7 52.1 L299.0 51.1 L299.3 56.6 L299.5 58.8" fill="none" stroke="#444444" stroke-width="2.7" stroke-linejoin="round" stroke-linecap="round" />
<line x1="97.2" y1="130.1" x2="144.3" y2="130.1" stroke="#4a4a4a" stroke-width="1.35" /><polygon points="91.7,130.1 98.2,127.8 98.2,132.4" fill="#4a4a4a"/>
<text x="149.4" y="134.3" font-size="14" fill="#101010" text-anchor="start" >Control</text>
<line x1="106.1" y1="153.5" x2="144.3" y2="153.5" stroke="#8f8f8f" stroke-width="1.35" /><polygon points="100.6,153.5 107.1,151.2 107.1,155.8" fill="#8f8f8f"/>
<text x="149.4" y="158.8" font-size="14" fill="#8a8a8a" text-anchor="start" >Glycine (1 mM)</text>
<line x1="112.5" y1="178.4" x2="144.3" y2="178.4" stroke="#585858" stroke-width="1.35" /><polygon points="107.0,178.4 113.5,176.1 113.5,180.7" fill="#585858"/>
<text x="149.4" y="183.2" font-size="14" fill="#101010" text-anchor="start" textLength="100.4" lengthAdjust="spacingAndGlyphs">D-serine (10 μM)</text>
<path d="M223 78 L223 108.6 L270.6 108.6" fill="none" stroke="#3c3c3c" stroke-width="1.4" stroke-linejoin="round" stroke-linecap="round" stroke-linecap="butt"/>
<text x="191.6" y="93.5" font-size="10.5" fill="#101010" text-anchor="start" >20 pA</text>
<text x="238.2" y="121.0" font-size="10.5" fill="#101010" text-anchor="start" >1 sec</text>
<line x1="48.5" y1="213.8" x2="144.3" y2="213.8" stroke="#3a3a3a" stroke-width="2.2" />
<text x="65.5" y="225.2" font-size="10.5" fill="#101010" text-anchor="start" >light</text>
<!-- Panel B -->
<text x="323.8" y="21.8" font-size="25" fill="#101010" text-anchor="start" >B</text>
<text x="442.6" y="25.5" font-size="21.5" fill="#101010" text-anchor="start" textLength="138.1" lengthAdjust="spacingAndGlyphs">light stimulation</text>
<path d="M372.8 33.3 L372.8 208.4 L591.6 208.4" fill="none" stroke="#5e5e5e" stroke-width="1.8" stroke-linejoin="round" stroke-linecap="round" stroke-linecap="butt" stroke-linejoin="miter"/>
<line x1="368.8" y1="175.5" x2="372.8" y2="175.5" stroke="#4a4a4a" stroke-width="1.0" />
<text x="364.3" y="179.0" font-size="11" fill="#101010" text-anchor="end" >100</text>
<line x1="368.8" y1="128.9" x2="372.8" y2="128.9" stroke="#4a4a4a" stroke-width="1.0" />
<text x="364.3" y="132.4" font-size="11" fill="#101010" text-anchor="end" >110</text>
<line x1="368.8" y1="82.3" x2="372.8" y2="82.3" stroke="#4a4a4a" stroke-width="1.0" />
<text x="364.3" y="85.8" font-size="11" fill="#101010" text-anchor="end" >120</text>
<line x1="368.8" y1="35.7" x2="372.8" y2="35.7" stroke="#4a4a4a" stroke-width="1.0" />
<text x="364.3" y="39.2" font-size="11" fill="#101010" text-anchor="end" >130</text>
<line x1="372.8" y1="208.4" x2="372.8" y2="212.0" stroke="#4a4a4a" stroke-width="1.1" />
<line x1="386.5" y1="208.4" x2="386.5" y2="210.7" stroke="#4a4a4a" stroke-width="0.9" />
<line x1="394.6" y1="208.4" x2="394.6" y2="210.7" stroke="#4a4a4a" stroke-width="0.9" />
<line x1="400.3" y1="208.4" x2="400.3" y2="210.7" stroke="#4a4a4a" stroke-width="0.9" />
<line x1="404.7" y1="208.4" x2="404.7" y2="210.7" stroke="#4a4a4a" stroke-width="0.9" />
<line x1="408.3" y1="208.4" x2="408.3" y2="210.7" stroke="#4a4a4a" stroke-width="0.9" />
<line x1="411.3" y1="208.4" x2="411.3" y2="210.7" stroke="#4a4a4a" stroke-width="0.9" />
<line x1="414.0" y1="208.4" x2="414.0" y2="210.7" stroke="#4a4a4a" stroke-width="0.9" />
<line x1="416.3" y1="208.4" x2="416.3" y2="210.7" stroke="#4a4a4a" stroke-width="0.9" />
<line x1="418.4" y1="208.4" x2="418.4" y2="212.0" stroke="#4a4a4a" stroke-width="1.1" />
<line x1="432.1" y1="208.4" x2="432.1" y2="210.7" stroke="#4a4a4a" stroke-width="0.9" />
<line x1="440.2" y1="208.4" x2="440.2" y2="210.7" stroke="#4a4a4a" stroke-width="0.9" />
<line x1="445.9" y1="208.4" x2="445.9" y2="210.7" stroke="#4a4a4a" stroke-width="0.9" />
<line x1="450.3" y1="208.4" x2="450.3" y2="210.7" stroke="#4a4a4a" stroke-width="0.9" />
<line x1="453.9" y1="208.4" x2="453.9" y2="210.7" stroke="#4a4a4a" stroke-width="0.9" />
<line x1="456.9" y1="208.4" x2="456.9" y2="210.7" stroke="#4a4a4a" stroke-width="0.9" />
<line x1="459.6" y1="208.4" x2="459.6" y2="210.7" stroke="#4a4a4a" stroke-width="0.9" />
<line x1="461.9" y1="208.4" x2="461.9" y2="210.7" stroke="#4a4a4a" stroke-width="0.9" />
<line x1="464.0" y1="208.4" x2="464.0" y2="212.0" stroke="#4a4a4a" stroke-width="1.1" />
<line x1="477.7" y1="208.4" x2="477.7" y2="210.7" stroke="#4a4a4a" stroke-width="0.9" />
<line x1="485.8" y1="208.4" x2="485.8" y2="210.7" stroke="#4a4a4a" stroke-width="0.9" />
<line x1="491.5" y1="208.4" x2="491.5" y2="210.7" stroke="#4a4a4a" stroke-width="0.9" />
<line x1="495.9" y1="208.4" x2="495.9" y2="210.7" stroke="#4a4a4a" stroke-width="0.9" />
<line x1="499.5" y1="208.4" x2="499.5" y2="210.7" stroke="#4a4a4a" stroke-width="0.9" />
<line x1="502.5" y1="208.4" x2="502.5" y2="210.7" stroke="#4a4a4a" stroke-width="0.9" />
<line x1="505.2" y1="208.4" x2="505.2" y2="210.7" stroke="#4a4a4a" stroke-width="0.9" />
<line x1="507.5" y1="208.4" x2="507.5" y2="210.7" stroke="#4a4a4a" stroke-width="0.9" />
<line x1="509.6" y1="208.4" x2="509.6" y2="212.0" stroke="#4a4a4a" stroke-width="1.1" />
<line x1="523.3" y1="208.4" x2="523.3" y2="210.7" stroke="#4a4a4a" stroke-width="0.9" />
<line x1="531.4" y1="208.4" x2="531.4" y2="210.7" stroke="#4a4a4a" stroke-width="0.9" />
<line x1="537.1" y1="208.4" x2="537.1" y2="210.7" stroke="#4a4a4a" stroke-width="0.9" />
<line x1="541.5" y1="208.4" x2="541.5" y2="210.7" stroke="#4a4a4a" stroke-width="0.9" />
<line x1="545.1" y1="208.4" x2="545.1" y2="210.7" stroke="#4a4a4a" stroke-width="0.9" />
<line x1="548.1" y1="208.4" x2="548.1" y2="210.7" stroke="#4a4a4a" stroke-width="0.9" />
<line x1="550.8" y1="208.4" x2="550.8" y2="210.7" stroke="#4a4a4a" stroke-width="0.9" />
<line x1="553.1" y1="208.4" x2="553.1" y2="210.7" stroke="#4a4a4a" stroke-width="0.9" />
<line x1="555.2" y1="208.4" x2="555.2" y2="212.0" stroke="#4a4a4a" stroke-width="1.1" />
<line x1="568.9" y1="208.4" x2="568.9" y2="210.7" stroke="#4a4a4a" stroke-width="0.9" />
<line x1="577.0" y1="208.4" x2="577.0" y2="210.7" stroke="#4a4a4a" stroke-width="0.9" />
<line x1="582.7" y1="208.4" x2="582.7" y2="210.7" stroke="#4a4a4a" stroke-width="0.9" />
<line x1="587.1" y1="208.4" x2="587.1" y2="210.7" stroke="#4a4a4a" stroke-width="0.9" />
<line x1="590.7" y1="208.4" x2="590.7" y2="210.7" stroke="#4a4a4a" stroke-width="0.9" />
<text x="372.1" y="224.0" font-size="10.3" fill="#101010" text-anchor="middle" >0.1</text>
<text x="417.7" y="224.0" font-size="10.3" fill="#101010" text-anchor="middle" >1</text>
<text x="463.3" y="224.0" font-size="10.3" fill="#101010" text-anchor="middle" >10</text>
<text x="508.9" y="224.0" font-size="10.3" fill="#101010" text-anchor="middle" >100</text>
<text x="554.5" y="224.0" font-size="10.3" fill="#101010" text-anchor="middle" >1000</text>
<text x="452.8" y="244.6" font-size="14" fill="#101010" text-anchor="start" textLength="61.5" lengthAdjust="spacingAndGlyphs">Dose (μM)</text>
<text transform="translate(340.1 109.7) rotate(-90)" font-size="14.5" fill="#101010" text-anchor="middle">% Control</text>
<rect x="384.9" y="39.9" width="5.3" height="4.8" fill="#444"/>
<text x="394.8" y="46.0" font-size="10.7" fill="#101010" text-anchor="start" >D-serine</text>
<circle cx="387.5" cy="60.2" r="2.3" fill="#fff" stroke="#555" stroke-width="1.2"/>
<text x="394.8" y="62.8" font-size="10.7" fill="#101010" text-anchor="start" >Glycine</text>
<line x1="394.6" y1="176.5" x2="394.6" y2="149.1" stroke="#505050" stroke-width="1.05" /><line x1="392.2" y1="149.1" x2="397.0" y2="149.1" stroke="#505050" stroke-width="1.05" />
<line x1="418.4" y1="165.3" x2="418.4" y2="148.6" stroke="#505050" stroke-width="1.05" /><line x1="416.0" y1="148.6" x2="420.8" y2="148.6" stroke="#505050" stroke-width="1.05" />
<line x1="440.2" y1="140.4" x2="440.2" y2="118.0" stroke="#505050" stroke-width="1.05" /><line x1="437.8" y1="118.0" x2="442.6" y2="118.0" stroke="#505050" stroke-width="1.05" />
<line x1="464.0" y1="91.0" x2="464.0" y2="72.5" stroke="#505050" stroke-width="1.05" /><line x1="461.6" y1="72.5" x2="466.4" y2="72.5" stroke="#505050" stroke-width="1.05" />
<line x1="485.8" y1="74.8" x2="485.8" y2="46.3" stroke="#505050" stroke-width="1.05" /><line x1="483.4" y1="46.3" x2="488.2" y2="46.3" stroke="#505050" stroke-width="1.05" />
<line x1="509.6" y1="63.2" x2="509.6" y2="41.2" stroke="#505050" stroke-width="1.05" /><line x1="507.2" y1="41.2" x2="512.0" y2="41.2" stroke="#505050" stroke-width="1.05" />
<line x1="531.4" y1="77.8" x2="531.4" y2="58.1" stroke="#505050" stroke-width="1.05" /><line x1="529.0" y1="58.1" x2="533.8" y2="58.1" stroke="#505050" stroke-width="1.05" />
<line x1="555.2" y1="69.5" x2="555.2" y2="44.5" stroke="#505050" stroke-width="1.05" /><line x1="552.8" y1="44.5" x2="557.6" y2="44.5" stroke="#505050" stroke-width="1.05" />
<line x1="555.2" y1="69.5" x2="555.2" y2="88.2" stroke="#505050" stroke-width="1.05" /><line x1="552.8" y1="88.2" x2="557.6" y2="88.2" stroke="#505050" stroke-width="1.05" />
<line x1="418.4" y1="167.8" x2="418.4" y2="183.5" stroke="#505050" stroke-width="1.05" /><line x1="416.0" y1="183.5" x2="420.8" y2="183.5" stroke="#505050" stroke-width="1.05" />
<line x1="440.2" y1="178.3" x2="440.2" y2="204.0" stroke="#505050" stroke-width="1.05" /><line x1="437.8" y1="204.0" x2="442.6" y2="204.0" stroke="#505050" stroke-width="1.05" />
<line x1="464.0" y1="150.0" x2="464.0" y2="175.5" stroke="#505050" stroke-width="1.05" /><line x1="461.6" y1="175.5" x2="466.4" y2="175.5" stroke="#505050" stroke-width="1.05" />
<line x1="485.8" y1="160.0" x2="485.8" y2="188.5" stroke="#505050" stroke-width="1.05" /><line x1="483.4" y1="188.5" x2="488.2" y2="188.5" stroke="#505050" stroke-width="1.05" />
<line x1="509.6" y1="143.0" x2="509.6" y2="164.0" stroke="#505050" stroke-width="1.05" /><line x1="507.2" y1="164.0" x2="512.0" y2="164.0" stroke="#505050" stroke-width="1.05" />
<line x1="531.4" y1="94.5" x2="531.4" y2="119.0" stroke="#505050" stroke-width="1.05" /><line x1="529.0" y1="119.0" x2="533.8" y2="119.0" stroke="#505050" stroke-width="1.05" />
<line x1="577.0" y1="72.3" x2="577.0" y2="103.0" stroke="#505050" stroke-width="1.05" /><line x1="574.6" y1="103.0" x2="579.4" y2="103.0" stroke="#505050" stroke-width="1.05" />
<path d="M372.8 175.60 L373.8 175.60 L374.8 175.60 L375.8 175.60 L376.8 175.60 L377.8 175.60 L378.8 175.60 L379.8 175.60 L380.8 175.60 L381.8 175.60 L382.8 175.60 L383.8 175.60 L384.8 175.60 L385.8 175.60 L386.8 175.60 L387.8 175.60 L388.8 175.60 L389.8 175.60 L390.8 175.60 L391.8 175.60 L392.8 175.60 L393.8 175.60 L394.8 175.60 L395.8 175.60 L396.8 175.60 L397.8 175.60 L398.8 175.60 L399.8 175.60 L400.8 175.60 L401.8 175.60 L402.8 175.60 L403.8 175.60 L404.8 175.60 L405.8 175.60 L406.8 175.60 L407.8 175.60 L408.8 175.60 L409.8 175.60 L410.8 175.60 L411.8 175.60 L412.8 175.60 L413.8 175.60 L414.8 175.60 L415.8 175.60 L416.8 175.60 L417.8 175.60 L418.8 175.60 L419.8 175.60 L420.8 175.60 L421.8 175.60 L422.8 175.60 L423.8 175.60 L424.8 175.60 L425.8 175.60 L426.8 175.60 L427.8 175.60 L428.8 175.60 L429.8 175.60 L430.8 175.60 L431.8 175.60 L432.8 175.60 L433.8 175.60 L434.8 175.60 L435.8 175.60 L436.8 175.60 L437.8 175.60 L438.8 175.60 L439.8 175.60 L440.8 175.60 L441.8 175.60 L442.8 175.60 L443.8 175.60 L444.8 175.60 L445.8 175.60 L446.8 175.60 L447.8 175.60 L448.8 175.60 L449.8 175.60 L450.8 175.60 L451.8 175.60 L452.8 175.60 L453.8 175.60 L454.8 175.60 L455.8 175.60 L456.8 175.59 L457.8 175.58 L458.8 175.57 L459.8 175.55 L460.8 175.53 L461.8 175.51 L462.8 175.48 L463.8 175.45 L464.8 175.41 L465.8 175.38 L466.8 175.34 L467.8 175.30 L468.8 175.25 L469.8 175.21 L470.8 175.16 L471.8 175.09 L472.8 174.99 L473.8 174.89 L474.8 174.76 L475.8 174.63 L476.8 174.47 L477.8 174.31 L478.8 174.13 L479.8 173.95 L480.8 173.75 L481.8 173.55 L482.8 173.33 L483.8 173.10 L484.8 172.82 L485.8 172.51 L486.8 172.17 L487.8 171.80 L488.8 171.40 L489.8 170.97 L490.8 170.50 L491.8 170.01 L492.8 169.48 L493.8 168.88 L494.8 168.19 L495.8 167.42 L496.8 166.57 L497.8 165.65 L498.8 164.66 L499.8 163.61 L500.8 162.46 L501.8 161.16 L502.8 159.69 L503.8 158.03 L504.8 156.19 L505.8 154.04 L506.8 151.45 L507.8 148.54 L508.8 145.42 L509.8 142.18 L510.8 138.63 L511.8 134.75 L512.8 130.59 L513.8 125.96 L514.8 121.08 L515.8 116.21 L516.8 111.49 L517.8 106.69 L518.8 102.03 L519.8 97.79 L520.8 93.94 L521.8 90.29 L522.8 87.05 L523.8 84.42 L524.8 82.12 L525.8 80.19 L526.8 78.90 L527.8 78.07 L528.8 77.45 L529.8 77.20 L530.8 77.20 L531.8 77.20 L532.8 77.20 L533.8 77.20 L534.8 77.20 L591.0 77.20" fill="none" stroke="#4a4a4a" stroke-width="1.4" stroke-linejoin="round" stroke-linecap="round" />
<path d="M372.8 175.60 L373.8 175.60 L374.8 175.60 L375.8 175.60 L376.8 175.60 L377.8 175.60 L378.8 175.60 L379.8 175.60 L380.8 175.60 L381.8 175.60 L382.8 175.60 L383.8 175.60 L384.8 175.60 L385.8 175.60 L386.8 175.60 L387.8 175.60 L388.8 175.60 L389.8 175.60 L390.8 175.59 L391.8 175.56 L392.8 175.50 L393.8 175.42 L394.8 175.33 L395.8 175.22 L396.8 175.11 L397.8 174.98 L398.8 174.85 L399.8 174.73 L400.8 174.59 L401.8 174.43 L402.8 174.26 L403.8 174.06 L404.8 173.85 L405.8 173.62 L406.8 173.38 L407.8 173.13 L408.8 172.87 L409.8 172.61 L410.8 172.34 L411.8 172.06 L412.8 171.79 L413.8 171.52 L414.8 171.24 L415.8 170.96 L416.8 170.66 L417.8 170.35 L418.8 170.01 L419.8 169.64 L420.8 169.23 L421.8 168.79 L422.8 168.29 L423.8 167.71 L424.8 167.04 L425.8 166.27 L426.8 165.41 L427.8 164.46 L428.8 163.43 L429.8 162.32 L430.8 161.03 L431.8 159.46 L432.8 157.67 L433.8 155.73 L434.8 153.71 L435.8 151.59 L436.8 149.31 L437.8 146.84 L438.8 144.18 L439.8 141.30 L440.8 138.14 L441.8 134.62 L442.8 130.71 L443.8 126.39 L444.8 121.18 L445.8 115.45 L446.8 109.90 L447.8 104.59 L448.8 99.41 L449.8 94.90 L450.8 91.00 L451.8 87.54 L452.8 84.90 L453.8 82.95 L454.8 81.35 L455.8 80.16 L456.8 79.37 L457.8 78.72 L458.8 78.22 L459.8 77.90 L460.8 77.68 L461.8 77.49 L462.8 77.34 L463.8 77.24 L464.8 77.20 L465.8 77.20 L466.8 77.20 L467.8 77.20 L468.8 77.20 L469.8 77.20 L591.0 77.20" fill="none" stroke="#4a4a4a" stroke-width="1.4" stroke-linejoin="round" stroke-linecap="round" />
<rect x="392.0" y="173.9" width="5.2" height="5.2" fill="#444"/>
<rect x="415.8" y="162.7" width="5.2" height="5.2" fill="#444"/>
<rect x="437.6" y="137.8" width="5.2" height="5.2" fill="#444"/>
<rect x="461.4" y="88.4" width="5.2" height="5.2" fill="#444"/>
<rect x="483.2" y="72.2" width="5.2" height="5.2" fill="#444"/>
<rect x="507.0" y="60.6" width="5.2" height="5.2" fill="#444"/>
<rect x="528.8" y="75.2" width="5.2" height="5.2" fill="#444"/>
<rect x="552.6" y="66.9" width="5.2" height="5.2" fill="#444"/>
<circle cx="418.4" cy="167.8" r="2.7" fill="#fff" stroke="#555" stroke-width="1.2"/>
<circle cx="440.2" cy="178.3" r="2.7" fill="#fff" stroke="#555" stroke-width="1.2"/>
<circle cx="464.0" cy="150.0" r="2.7" fill="#fff" stroke="#555" stroke-width="1.2"/>
<circle cx="485.8" cy="160.0" r="2.7" fill="#fff" stroke="#555" stroke-width="1.2"/>
<circle cx="509.6" cy="143.0" r="2.7" fill="#fff" stroke="#555" stroke-width="1.2"/>
<circle cx="531.4" cy="94.5" r="2.7" fill="#fff" stroke="#555" stroke-width="1.2"/>
<circle cx="555.2" cy="66.5" r="2.7" fill="#fff" stroke="#555" stroke-width="1.2"/>
<circle cx="577.0" cy="72.3" r="2.7" fill="#fff" stroke="#555" stroke-width="1.2"/>
<!-- Panel C -->
<text x="4.5" y="277.1" font-size="25" fill="#101010" text-anchor="start" >C</text>
<text x="107.1" y="290.7" font-size="21.5" fill="#101010" text-anchor="start" textLength="121.8" lengthAdjust="spacingAndGlyphs">NMDA “puff”</text>
<line x1="101.8" y1="295.0" x2="60.0" y2="310.1" stroke="#484848" stroke-width="1.5" />
<polygon points="55.5,311.7 62.3,306.6 64,311.3" fill="#484848"/>
<path d="M54.1 325.3 L54.4 322.2 L54.8 319.2 L55.2 322.2 L55.6 321.5 L56.0 325.7 L56.4 322.5 L56.8 326.2 L57.2 325.9 L57.6 320.9 L58.0 324.5 L58.4 323.2 L58.8 320.4 L59.2 319.5 L59.6 320.1 L60.0 322.8 L60.4 319.7 L60.8 324.2 L61.2 321.6 L61.6 313.6 L62.0 320.4 L62.4 320.9 L62.8 324.2 L63.2 324.9 L63.6 322.7 L64.0 319.8 L64.4 317.4 L64.8 326.4 L65.2 319.4 L65.6 323.6 L66.0 323.0 L66.4 319.4 L66.8 322.9 L67.2 323.0 L67.6 326.8 L68.0 319.4 L68.4 321.5 L68.8 322.6 L69.2 317.3 L69.6 323.8 L70.0 325.2 L70.4 322.0 L70.8 322.2 L71.2 318.5 L71.6 324.9 L72.0 321.6 L72.4 322.7 L72.8 326.2 L73.2 324.6 L73.6 322.4 L74.0 324.6 L74.4 322.2 L74.8 319.3 L75.2 322.5 L75.6 320.9 L76.0 326.3 L76.4 323.1 L76.8 321.2 L77.2 320.6 L77.6 320.7 L78.0 322.0 L78.4 322.0 L78.8 316.2 L79.2 329.7 L79.6 322.9 L80.0 319.8 L80.4 322.9 L80.8 322.2 L81.2 323.3 L81.6 326.4 L82.0 319.7 L82.4 324.4 L82.8 322.2 L83.2 322.6 L83.6 319.0 L84.0 318.1 L84.4 320.7 L84.8 324.7 L85.2 321.3 L85.6 319.6 L86.0 325.1 L86.4 325.3 L86.8 322.3 L87.2 320.2 L87.6 326.2 L88.0 321.3 L88.4 326.2 L88.8 324.4 L89.2 323.3 L89.6 319.3 L90.0 322.1 L90.4 318.6 L90.8 323.8 L91.2 323.3 L91.6 321.8 L92.0 324.1 L92.4 317.8 L92.8 322.8 L93.2 321.7 L93.6 317.5 L94.0 322.6 L94.4 319.8 L94.8 323.1 L95.2 320.1 L95.6 320.1 L96.0 323.9 L96.4 321.6 L96.8 321.9 L97.2 323.9 L97.6 317.0 L98.0 321.6 L98.4 319.2 L98.8 322.5 L99.2 321.0 L99.6 326.3 L100.0 320.1 L100.4 316.8 L100.8 318.5 L101.2 320.0 L101.6 322.3 L102.0 319.5 L102.4 327.0 L102.8 321.0 L103.2 320.7 L103.6 320.5 L104.0 323.0 L104.4 319.9 L104.8 322.5 L105.2 322.7 L105.6 325.6 L106.0 320.2 L106.4 324.7 L106.8 317.9 L107.2 324.7 L107.6 322.2 L108.0 322.2 L108.4 319.7 L108.8 314.1 L109.2 322.1 L109.6 320.4 L110.0 323.7 L110.4 319.3 L110.8 325.4 L111.2 322.6 L111.6 319.7 L112.0 319.5 L112.4 317.6 L112.8 326.6 L113.2 322.9 L113.6 325.7 L114.0 320.0 L114.4 324.8 L114.8 325.6 L115.2 320.0 L115.6 322.6 L116.0 322.6 L116.4 321.5 L116.8 320.4 L117.2 321.3 L117.6 320.1 L118.0 318.3 L118.4 321.7 L118.8 322.3 L119.2 325.1 L119.6 323.3 L120.0 319.7 L120.4 322.6 L120.8 324.7 L121.2 323.0 L121.6 323.5 L122.0 325.5 L122.4 322.7 L122.8 322.7 L123.2 319.0 L123.6 321.9 L124.0 320.5 L124.4 322.4 L124.8 318.5 L125.2 321.3 L125.6 317.8 L126.0 323.7 L126.4 319.7 L126.8 322.4 L127.2 325.7 L127.6 323.4 L128.0 319.4 L128.4 325.3 L128.8 318.4 L129.2 320.9 L129.6 321.7 L130.0 326.8 L130.4 322.3 L130.8 320.0 L131.2 325.2 L131.6 318.6 L132.0 324.9 L132.4 319.0 L132.8 318.6 L133.2 317.7 L133.6 320.5 L134.0 321.6 L134.4 321.4 L134.8 320.2 L135.2 318.3 L135.6 316.7 L136.0 315.4 L136.4 318.7 L136.8 319.4 L137.2 322.8 L137.6 321.7 L138.0 323.1 L138.4 321.4 L138.8 319.0 L139.2 320.3 L139.6 317.0 L140.0 325.0 L140.4 316.9 L140.8 326.3 L141.2 318.1 L141.6 321.3 L142.0 323.4 L142.4 322.2 L142.8 320.0 L143.2 318.6 L143.6 320.3 L144.0 323.2 L144.4 324.1 L144.8 317.3 L145.2 323.3 L145.6 315.5 L146.0 320.1 L146.4 317.2 L146.8 316.6 L147.2 320.8 L147.6 321.8 L148.0 320.9 L148.4 320.7 L148.8 324.0 L149.2 323.6 L149.6 322.4 L150.0 319.7 L150.4 319.6 L150.8 319.5 L151.2 320.4 L151.6 323.0 L152.0 320.9 L152.4 321.5 L152.8 323.5 L153.2 318.0 L153.6 317.4 L154.0 318.4 L154.4 317.6 L154.8 324.8 L155.2 320.2 L155.6 319.2 L156.0 322.5 L156.4 326.1 L156.8 320.2 L157.2 320.7 L157.6 318.2 L158.0 320.2 L158.4 322.1 L158.8 319.3 L159.2 321.2 L159.6 322.2 L159.9 320.7" fill="none" stroke="#bebebe" stroke-width="2.0" stroke-linejoin="round" stroke-linecap="round" />
<path d="M33.0 323.6 L33.3 327.9 L33.5 327.2 L33.8 321.5 L34.1 322.8 L34.5 323.9 L34.9 318.0 L35.3 314.8 L35.7 322.3 L36.1 320.4 L36.5 326.5 L36.9 319.9 L37.3 322.2 L37.7 323.9 L38.1 319.2 L38.5 334.8 L38.9 330.7 L39.3 322.9 L39.7 331.0 L40.1 322.2 L40.5 326.4 L40.9 327.5 L41.3 324.4 L41.7 327.2 L42.1 322.4 L42.5 327.7 L42.9 329.0 L43.3 322.1 L43.7 318.7 L44.1 332.1 L44.5 327.7 L44.9 328.9 L45.3 322.6 L45.7 325.0 L46.1 322.6 L46.5 322.6 L46.9 327.1 L47.3 324.8 L47.7 321.4 L48.1 321.0 L48.5 322.1 L48.9 327.1 L49.3 321.4 L49.7 320.0 L50.1 322.6 L50.5 324.0 L50.9 324.7 L51.2 320.5 L51.5 316.4 L51.8 317.1 L52.1 324.9 L52.3 321.5 L52.5 330.7 L52.6 326.4 L52.8 329.4 L52.9 328.2 L52.9 329.9 L53.0 325.3 L53.1 329.4 L53.1 328.1 L53.2 333.2 L53.3 325.2 L53.3 330.5 L53.4 328.9 L53.5 334.8 L53.5 332.4 L53.6 327.7 L53.7 332.3 L53.8 331.9 L53.8 330.2 L53.9 330.2 L54.0 334.0 L54.0 332.8 L54.1 333.4 L54.2 333.5 L54.2 328.3 L54.3 332.7 L54.4 334.1 L54.5 338.2 L54.5 334.8 L54.6 337.4 L54.7 339.8 L54.7 335.3 L54.8 340.2 L54.9 337.0 L55.0 338.9 L55.0 336.1 L55.1 334.6 L55.1 339.0 L55.2 341.5 L55.2 337.3 L55.3 338.7 L55.3 341.2 L55.4 342.0 L55.4 339.5 L55.4 343.7 L55.5 340.0 L55.5 341.4 L55.5 344.5 L55.6 339.9 L55.6 343.2 L55.6 345.3 L55.6 343.9 L55.7 343.8 L55.7 342.4 L55.7 350.3 L55.8 345.1 L55.8 345.0 L55.8 345.8 L55.8 349.4 L55.9 350.8 L55.9 349.6 L55.9 350.2 L56.0 349.8 L56.0 352.1 L56.0 350.9 L56.0 348.6 L56.1 348.8 L56.1 350.5 L56.1 353.9 L56.2 352.2 L56.2 354.1 L56.2 354.3 L56.2 357.0 L56.3 353.8 L56.3 354.6 L56.3 354.3 L56.4 356.4 L56.4 354.0 L56.4 356.1 L56.4 357.5 L56.5 353.8 L56.5 358.4 L56.5 357.6 L56.6 360.2 L56.6 356.9 L56.6 358.7 L56.7 358.3 L56.7 358.1 L56.7 361.4 L56.7 354.9 L56.8 362.0 L56.8 359.9 L56.8 363.0 L56.9 358.7 L56.9 365.5 L56.9 360.2 L56.9 361.1 L57.0 360.6 L57.0 365.7 L57.0 366.3 L57.1 367.5 L57.1 362.8 L57.1 364.8 L57.1 364.2 L57.2 364.1 L57.2 364.8 L57.2 363.0 L57.3 368.1 L57.3 369.4 L57.3 367.9 L57.3 369.0 L57.4 373.3 L57.4 368.9 L57.4 371.1 L57.5 370.2 L57.5 372.2 L57.5 373.6 L57.5 371.9 L57.6 370.4 L57.6 376.2 L57.6 373.1 L57.7 375.6 L57.7 371.7 L57.7 371.8 L57.8 374.8 L57.8 378.1 L57.8 374.8 L57.9 377.2 L57.9 379.8 L57.9 375.5 L58.0 375.5 L58.0 377.1 L58.1 377.1 L58.1 378.9 L58.1 380.4 L58.2 377.7 L58.2 382.5 L58.3 378.4 L58.3 383.1 L58.4 382.1 L58.4 384.8 L58.4 381.3 L58.5 381.7 L58.5 385.7 L58.6 379.3 L58.6 385.7 L58.7 380.7 L58.7 385.0 L58.7 385.5 L58.8 384.8 L58.8 383.8 L58.9 383.6 L58.9 387.2 L59.0 384.4 L59.0 385.7 L59.0 387.9 L59.1 391.6 L59.1 386.8 L59.2 388.9 L59.2 390.5 L59.3 389.2 L59.3 387.3 L59.3 387.9 L59.4 391.0 L59.4 391.1 L59.5 391.8 L59.5 394.7 L59.6 393.8 L59.6 392.3 L59.6 394.0 L59.7 391.8 L59.7 394.3 L59.8 399.2 L59.8 393.4 L59.9 395.7 L59.9 394.3 L59.9 396.5 L60.0 395.8 L60.0 392.1 L60.1 395.9 L60.1 395.9 L60.2 396.1 L60.2 397.5 L60.2 398.1 L60.3 397.2 L60.3 396.8 L60.4 399.6 L60.4 396.5 L60.5 396.4 L60.5 399.3 L60.5 403.7 L60.6 401.1 L60.6 402.3 L60.7 401.8 L60.7 400.9 L60.8 402.5 L60.8 401.2 L60.9 405.6 L60.9 400.1 L61.0 405.6 L61.0 405.2 L61.1 408.6 L61.2 405.3 L61.2 408.1 L61.3 406.6 L61.3 408.8 L61.4 403.5 L61.4 406.3 L61.5 405.2 L61.6 407.8 L61.6 410.4 L61.7 407.9 L61.7 407.5 L61.8 410.9 L61.9 409.0 L61.9 408.8 L62.0 409.2 L62.0 404.9 L62.1 404.9 L62.2 414.8 L62.2 405.1 L62.3 406.6 L62.3 410.9 L62.4 411.0 L62.4 415.9 L62.5 404.2 L62.6 413.4 L62.6 410.4 L62.7 423.9 L62.7 419.6 L62.8 417.5 L62.9 421.3 L62.9 416.7 L63.0 419.2 L63.0 399.9 L63.1 410.1 L63.1 428.1 L63.2 421.7 L63.3 418.1 L63.3 432.2 L63.4 435.1 L63.4 406.2 L63.5 420.2 L63.6 429.9 L63.6 418.5 L63.7 431.3 L63.7 427.0 L63.8 426.3 L63.9 420.5 L63.9 430.0 L64.0 427.0 L64.0 428.9 L64.1 434.8 L64.1 417.7 L64.2 421.1 L64.3 432.0 L64.3 424.5 L64.4 426.1 L64.5 428.2 L64.5 419.8 L64.6 429.8 L64.7 427.6 L64.8 434.5 L64.9 423.6 L65.0 432.7 L65.0 431.3 L65.1 426.6 L65.2 431.1 L65.3 428.0 L65.4 426.2 L65.5 435.5 L65.6 426.8 L65.7 438.0 L65.8 439.4 L65.9 426.0 L66.0 423.1 L66.0 443.4 L66.1 433.6 L66.2 445.8 L66.3 426.0 L66.4 420.7 L66.5 436.0 L66.6 437.3 L66.7 437.3 L66.8 441.9 L66.9 439.6 L67.0 437.9 L67.0 438.6 L67.1 446.0 L67.2 432.2 L67.4 425.3 L67.5 439.6 L67.6 441.1 L67.7 434.2 L67.9 435.1 L68.0 440.5 L68.1 437.3 L68.3 439.8 L68.4 449.5 L68.6 450.6 L68.8 454.9 L68.9 433.5 L69.1 432.2 L69.2 446.4 L69.4 442.6 L69.6 439.7 L69.7 439.6 L69.9 449.8 L70.1 445.2 L70.3 454.1 L70.5 446.1 L70.7 450.0 L70.9 442.4 L71.2 447.9 L71.4 453.8 L71.7 445.1 L72.0 442.1 L72.3 444.8 L72.6 440.1 L72.8 437.2 L73.1 431.0 L73.3 443.5 L73.5 453.6 L73.7 448.4 L73.9 454.2 L74.0 439.1 L74.2 443.6 L74.3 438.3 L74.5 451.4 L74.6 442.8 L74.8 446.8 L74.9 443.9 L75.0 436.7 L75.2 432.7 L75.3 430.2 L75.4 436.6 L75.6 427.6 L75.7 439.4 L75.9 446.4 L76.0 438.2 L76.1 445.5 L76.3 442.5 L76.4 427.2 L76.6 452.0 L76.7 432.9 L76.8 423.7 L77.0 428.4 L77.1 428.0 L77.2 436.7 L77.4 435.0 L77.5 446.1 L77.7 433.0 L77.8 435.7 L77.9 447.5 L78.1 434.8 L78.2 436.1 L78.3 439.4 L78.5 431.7 L78.6 438.7 L78.8 432.0 L78.9 441.1 L79.0 448.9 L79.2 427.0 L79.3 413.2 L79.4 431.6 L79.6 420.7 L79.7 439.2 L79.9 434.3 L80.0 428.3 L80.2 423.3 L80.3 433.3 L80.4 426.9 L80.6 427.5 L80.7 413.8 L80.9 415.1 L81.0 425.1 L81.2 417.0 L81.3 422.5 L81.5 411.7 L81.6 421.2 L81.8 431.8 L81.9 406.9 L82.0 433.4 L82.2 417.6 L82.3 427.6 L82.5 417.1 L82.6 417.5 L82.8 415.6 L82.9 409.8 L83.1 423.8 L83.2 425.4 L83.4 408.9 L83.5 419.1 L83.7 425.5 L83.8 417.6 L84.0 411.2 L84.2 416.9 L84.3 425.2 L84.5 426.3 L84.7 417.8 L84.8 413.7 L85.0 423.9 L85.2 415.8 L85.3 406.1 L85.5 424.3 L85.7 412.0 L85.8 415.8 L86.0 412.4 L86.2 405.7 L86.3 405.0 L86.5 409.9 L86.7 413.3 L86.8 408.3 L87.0 414.0 L87.2 408.5 L87.3 412.6 L87.5 397.5 L87.7 410.2 L87.8 403.9 L88.0 401.1 L88.2 405.5 L88.3 404.6 L88.5 416.9 L88.7 399.8 L88.8 407.4 L89.0 407.1 L89.2 404.2 L89.3 407.5 L89.5 399.0 L89.7 409.8 L89.8 400.4 L90.0 396.6 L90.2 399.0 L90.3 409.7 L90.5 391.1 L90.7 398.7 L90.8 402.7 L91.0 391.8 L91.2 402.9 L91.3 398.2 L91.5 399.2 L91.7 398.4 L91.9 393.8 L92.0 395.4 L92.2 393.8 L92.4 386.7 L92.6 391.3 L92.7 404.0 L92.9 397.6 L93.1 398.8 L93.3 404.1 L93.5 387.8 L93.7 386.8 L93.9 400.5 L94.0 400.1 L94.2 391.4 L94.4 382.7 L94.6 393.4 L94.8 387.6 L95.0 396.0 L95.1 389.0 L95.3 389.1 L95.5 393.3 L95.7 379.5 L95.9 386.2 L96.1 382.4 L96.3 389.4 L96.4 404.7 L96.6 387.7 L96.8 391.5 L97.0 393.1 L97.1 389.7 L97.3 387.7 L97.5 388.2 L97.6 389.6 L97.8 389.7 L97.9 391.0 L98.1 393.8 L98.3 384.4 L98.4 384.7 L98.6 379.5 L98.7 389.2 L98.9 388.6 L99.1 386.7 L99.2 400.2 L99.4 371.2 L99.5 380.8 L99.7 379.8 L99.9 381.8 L100.0 374.8 L100.2 382.5 L100.4 382.2 L100.5 381.9 L100.7 385.8 L100.9 388.9 L101.0 384.5 L101.2 374.2 L101.4 380.5 L101.5 374.7 L101.7 382.3 L101.9 369.2 L102.1 379.9 L102.2 378.1 L102.4 380.0 L102.6 382.9 L102.7 375.3 L102.9 369.3 L103.1 371.3 L103.3 382.5 L103.4 375.2 L103.6 370.8 L103.8 373.9 L103.9 373.9 L104.1 379.0 L104.3 372.6 L104.5 371.5 L104.6 373.5 L104.8 361.3 L105.0 363.4 L105.1 376.1 L105.3 366.1 L105.5 371.3 L105.7 372.6 L105.8 375.0 L106.0 373.0 L106.2 371.6 L106.4 364.2 L106.6 362.2 L106.8 358.0 L107.0 366.6 L107.1 364.5 L107.3 367.0 L107.5 367.0 L107.7 371.9 L107.9 366.3 L108.1 358.7 L108.3 363.2 L108.5 363.0 L108.7 365.7 L108.9 367.7 L109.1 353.2 L109.2 365.3 L109.4 362.2 L109.6 362.2 L109.8 363.2 L110.0 364.7 L110.2 359.0 L110.4 359.7 L110.6 361.9 L110.8 369.5 L111.0 351.1 L111.2 354.1 L111.4 355.4 L111.5 350.7 L111.7 354.7 L111.9 362.6 L112.2 346.5 L112.4 347.0 L112.6 355.2 L112.8 354.7 L113.1 358.7 L113.3 355.8 L113.5 351.7 L113.8 357.4 L114.1 353.8 L114.3 352.9 L114.6 344.4 L114.8 354.6 L115.1 361.8 L115.4 353.0 L115.6 350.4 L115.9 354.8 L116.1 354.6 L116.4 356.8 L116.7 356.7 L116.9 347.7 L117.2 356.5 L117.4 352.0 L117.7 347.8 L118.0 341.1 L118.2 348.6 L118.5 349.8 L118.7 354.3 L119.0 348.4 L119.3 351.7 L119.5 352.8 L119.8 347.6 L120.0 342.9 L120.3 352.9 L120.6 350.2 L120.8 345.4 L121.1 346.8 L121.3 352.2 L121.6 347.4 L121.9 345.3 L122.1 347.7 L122.4 347.1 L122.7 350.6 L122.9 341.3 L123.2 350.5 L123.4 343.4 L123.7 343.6 L124.0 334.8 L124.2 339.8 L124.5 337.2 L124.8 341.5 L125.1 346.9 L125.4 340.0 L125.7 340.0 L126.0 335.0 L126.3 337.8 L126.7 334.9 L127.0 333.9 L127.3 331.7 L127.7 347.4 L128.0 340.2 L128.3 341.2 L128.7 337.6 L129.0 336.0 L129.3 336.7 L129.7 338.9 L130.0 344.8 L130.3 340.7 L130.7 336.7 L131.0 341.6 L131.4 343.6 L131.7 333.3 L132.1 328.1 L132.4 333.1 L132.8 335.2 L133.2 335.1 L133.5 338.1 L133.9 335.0 L134.3 333.9 L134.6 330.7 L135.0 337.2 L135.3 332.1 L135.7 342.6 L136.1 330.2 L136.4 327.9 L136.8 327.6 L137.2 329.9 L137.5 329.9 L137.9 333.5 L138.3 339.3 L138.7 334.9 L139.0 327.9 L139.4 333.3 L139.8 339.3 L140.2 333.1 L140.6 338.2 L141.0 335.0 L141.4 331.7 L141.7 342.6 L142.1 335.6 L142.5 331.1 L142.9 333.4 L143.3 328.9 L143.7 326.9 L144.1 331.1 L144.5 330.6 L144.8 330.4 L145.2 333.5 L145.6 328.1 L146.0 330.5 L146.4 337.1 L146.8 325.3 L147.1 328.3 L147.5 338.3 L147.9 329.2 L148.3 328.3 L148.7 330.8 L149.0 328.7 L149.4 329.3 L149.8 318.7 L150.2 325.8 L150.6 322.6 L151.0 333.7 L151.3 324.8 L151.7 323.1 L152.1 329.7 L152.5 328.3 L152.9 333.5 L153.2 329.4 L153.6 326.4 L154.0 327.2 L154.4 325.3 L154.8 324.6 L155.2 324.2 L155.6 319.9 L156.0 317.5 L156.4 326.0 L156.8 327.3 L157.1 320.9 L157.5 326.8 L157.9 326.3 L158.3 330.2 L158.7 327.7 L159.1 321.6 L159.5 321.8 L159.9 326.6 L160.3 323.9 L160.7 317.6 L161.1 330.6 L161.5 324.3 L161.9 325.8 L162.2 330.5 L162.6 319.3 L163.0 323.3 L163.4 320.6 L163.8 326.7 L164.2 329.6 L164.6 324.5 L165.0 324.6 L165.4 324.8 L165.8 326.7 L166.2 329.1 L166.6 321.7 L167.0 326.8 L167.4 326.4 L167.8 325.2 L168.2 320.0 L168.6 334.8 L169.0 326.2 L169.4 324.2 L169.8 325.3 L170.2 321.3 L170.6 324.4 L171.0 329.5 L171.4 327.3 L171.8 324.9 L172.2 323.9 L172.6 318.9 L173.0 326.9 L173.4 322.5 L173.8 317.1 L174.2 332.6 L174.6 327.0 L175.0 324.6 L175.4 324.6 L175.8 323.6 L176.2 323.6 L176.6 329.0 L177.0 325.8 L177.4 327.0 L177.8 318.4 L178.2 319.6 L178.6 328.4 L179.0 323.5 L179.4 320.1 L179.8 333.3 L180.2 327.8 L180.7 321.0 L181.1 323.1 L181.5 324.1 L181.9 315.0 L182.3 326.6 L182.7 325.5 L183.1 325.3 L183.5 323.0 L183.9 317.0 L184.3 325.2 L184.7 329.2 L185.1 320.7 L185.5 327.2 L185.9 321.9 L186.3 322.9 L186.7 321.1 L187.1 325.8 L187.5 329.6 L187.9 325.3 L188.3 320.4 L188.7 321.8 L189.1 322.4 L189.5 327.3 L189.9 330.1 L190.3 319.3 L190.8 317.9 L191.2 327.1 L191.6 315.4 L192.0 320.0 L192.4 319.5 L192.8 320.2 L193.2 314.7 L193.6 316.3 L194.0 319.8 L194.4 319.8 L194.8 324.4 L195.2 325.3 L195.6 318.3 L196.0 313.5 L196.4 324.7 L196.8 324.7 L197.2 324.5 L197.6 323.5 L198.0 319.3 L198.4 329.8 L198.8 323.7 L199.2 322.3 L199.6 317.5 L200.0 320.7 L200.4 314.8 L200.8 327.4 L201.3 319.2 L201.7 317.3 L202.1 324.2 L202.5 323.4 L202.9 326.9 L203.3 323.9 L203.7 314.4 L204.1 321.7 L204.5 318.2 L204.9 321.2 L205.3 320.9 L205.7 316.2 L206.1 323.3 L206.5 318.9 L206.9 315.5 L207.3 318.7 L207.7 329.7 L208.1 316.8 L208.5 320.8 L208.9 319.3 L209.3 322.8 L209.7 321.1 L210.1 325.8 L210.5 324.7 L210.9 320.3 L211.3 325.3 L211.8 318.4 L212.2 311.8 L212.6 325.6 L213.0 325.0 L213.4 316.5 L213.8 326.7 L214.2 315.4 L214.6 315.8 L215.0 321.3 L215.4 318.7 L215.8 321.9 L216.2 322.5 L216.6 317.0 L217.0 317.4 L217.4 315.5 L217.8 325.4 L218.2 318.1 L218.6 322.7 L219.0 321.2 L219.4 326.5 L219.8 316.8 L220.2 319.2 L220.6 326.5 L221.0 322.5 L221.4 315.9 L221.8 316.3 L222.2 321.0 L222.6 323.1 L223.1 315.4 L223.5 323.0 L223.9 318.1 L224.3 312.7 L224.7 325.1 L225.1 319.7 L225.5 321.8 L225.9 316.0 L226.3 317.8 L226.7 314.6 L227.1 319.8 L227.5 320.2 L227.9 321.1 L228.3 327.6 L228.7 318.3 L229.1 320.2 L229.5 323.6 L229.9 315.0 L230.3 320.0 L230.7 327.9 L231.1 317.9 L231.5 315.5 L231.9 322.1 L232.3 317.6 L232.7 324.5 L233.1 320.9 L233.5 316.5 L233.9 324.1 L234.4 316.4 L234.8 319.9 L235.2 315.2 L235.6 319.6 L236.0 314.8 L236.4 318.5 L236.8 322.2 L237.2 314.6 L237.6 315.3 L238.0 316.1 L238.4 315.9 L238.8 319.4 L239.2 321.8 L239.6 323.4 L240.0 320.3 L240.4 317.3 L240.8 316.9 L241.2 326.1 L241.6 319.5 L242.0 324.1 L242.4 321.2 L242.8 322.2 L243.2 314.7 L243.6 327.3 L244.0 322.5 L244.4 313.5 L244.8 321.0 L245.2 315.8 L245.6 317.2 L246.0 321.0 L246.4 317.7 L246.8 319.0 L247.2 320.5 L247.6 318.6 L248.0 320.8 L248.4 321.3 L248.8 319.8 L249.2 312.0 L249.6 319.9 L250.0 313.7 L250.4 317.8 L250.8 326.3 L251.2 317.7 L251.6 326.0 L252.0 317.6 L252.4 305.1 L252.8 320.1 L253.2 316.5 L253.6 321.2 L254.0 318.8 L254.4 319.4 L254.8 323.0 L255.2 314.8 L255.6 322.3 L256.0 321.2 L256.4 318.5 L256.8 318.7 L257.2 314.5 L257.6 315.0 L258.0 319.8 L258.4 322.4 L258.8 321.4 L259.2 321.4 L259.6 316.2 L260.0 323.9 L260.4 322.0 L260.8 322.3 L261.2 318.6 L261.6 321.4 L262.0 322.6 L262.4 315.3 L262.8 309.2 L263.2 321.9 L263.6 320.3 L264.1 326.9 L264.5 317.9 L264.9 326.7 L265.3 319.7 L265.7 315.0 L266.1 317.5 L266.5 324.7 L266.9 321.4 L267.3 322.3 L267.7 321.4 L268.1 319.0 L268.5 318.8 L268.9 314.9 L269.3 314.7 L269.7 317.6 L270.1 318.1 L270.5 318.3 L270.9 315.1 L271.4 321.1 L271.8 322.5 L272.2 313.4 L272.6 318.0 L273.0 317.0 L273.3 320.6 L273.7 317.8 L274.0 316.9 L274.2 324.5 L274.4 322.5" fill="none" stroke="#8c8c8c" stroke-width="1.9" stroke-linejoin="round" stroke-linecap="round" />
<path d="M33.1 316.9 L33.3 319.8 L33.5 318.1 L33.8 319.5 L34.2 323.7 L34.5 324.1 L34.9 320.5 L35.3 316.4 L35.7 318.9 L36.1 320.4 L36.5 315.0 L36.9 315.3 L37.3 319.4 L37.8 316.6 L38.2 317.2 L38.6 321.0 L39.0 319.9 L39.4 316.8 L39.8 317.3 L40.2 322.4 L40.6 317.6 L41.0 321.1 L41.4 321.0 L41.8 316.6 L42.2 322.5 L42.6 322.5 L43.0 315.3 L43.4 321.5 L43.8 314.5 L44.2 317.8 L44.6 316.9 L45.0 313.8 L45.4 328.1 L45.8 321.4 L46.2 321.8 L46.6 311.2 L47.0 312.2 L47.4 316.5 L47.8 316.0 L48.3 319.4 L48.7 321.4 L49.1 320.3 L49.5 317.2 L49.9 322.2 L50.3 319.8 L50.7 317.6 L51.1 323.3 L51.5 317.8 L51.9 325.9 L52.2 313.1 L52.5 316.6 L52.8 313.6 L53.0 318.0 L53.2 323.9 L53.4 316.2 L53.5 318.3 L53.6 324.7 L53.7 325.7 L53.7 319.9 L53.8 322.5 L53.8 321.1 L53.8 328.0 L53.9 324.1 L53.9 323.7 L53.9 328.5 L54.0 330.9 L54.0 331.1 L54.1 329.9 L54.1 327.2 L54.1 322.7 L54.2 322.7 L54.2 325.4 L54.2 334.9 L54.3 332.6 L54.3 326.0 L54.4 324.2 L54.4 327.8 L54.4 333.1 L54.5 339.0 L54.5 333.5 L54.5 333.6 L54.6 331.1 L54.6 334.2 L54.6 333.5 L54.7 339.9 L54.7 332.8 L54.8 333.6 L54.8 331.7 L54.8 331.9 L54.9 332.5 L54.9 335.3 L54.9 338.7 L55.0 340.5 L55.0 343.4 L55.1 341.6 L55.1 341.3 L55.1 339.5 L55.2 336.0 L55.2 348.9 L55.2 338.6 L55.3 341.3 L55.3 345.9 L55.4 341.6 L55.4 337.2 L55.4 336.1 L55.5 339.1 L55.5 342.9 L55.5 340.2 L55.6 343.8 L55.6 339.1 L55.7 340.0 L55.7 347.7 L55.7 334.8 L55.8 351.6 L55.8 344.5 L55.8 349.1 L55.9 339.1 L55.9 348.1 L55.9 340.5 L55.9 346.5 L56.0 348.1 L56.0 351.4 L56.0 343.5 L56.1 349.9 L56.1 354.1 L56.1 349.7 L56.2 344.9 L56.2 349.6 L56.2 347.6 L56.2 344.5 L56.3 350.8 L56.3 352.3 L56.3 349.0 L56.4 353.6 L56.4 354.3 L56.4 353.3 L56.5 348.4 L56.5 357.0 L56.5 353.8 L56.5 352.0 L56.6 354.4 L56.6 357.8 L56.6 361.3 L56.7 362.1 L56.7 351.4 L56.7 356.6 L56.8 366.4 L56.8 361.0 L56.8 357.8 L56.9 355.0 L56.9 358.9 L56.9 354.4 L56.9 358.9 L57.0 350.9 L57.0 358.9 L57.0 356.9 L57.1 368.0 L57.1 364.0 L57.1 357.0 L57.1 362.6 L57.2 363.6 L57.2 357.1 L57.2 356.2 L57.3 370.6 L57.3 363.0 L57.3 362.8 L57.4 367.2 L57.4 364.0 L57.4 366.5 L57.5 360.4 L57.5 364.7 L57.5 361.9 L57.5 374.5 L57.6 373.1 L57.6 367.3 L57.6 372.4 L57.7 371.1 L57.7 364.2 L57.7 367.7 L57.8 363.7 L57.8 373.4 L57.8 364.9 L57.8 368.2 L57.9 370.8 L57.9 370.7 L57.9 365.9 L58.0 364.7 L58.0 379.3 L58.0 368.0 L58.0 372.8 L58.1 380.0 L58.1 378.6 L58.1 375.2 L58.2 374.0 L58.2 380.8 L58.2 374.2 L58.3 382.9 L58.3 379.7 L58.3 370.1 L58.4 371.3 L58.4 384.0 L58.4 373.6 L58.4 380.2 L58.5 379.0 L58.5 375.9 L58.5 377.4 L58.6 384.8 L58.6 382.7 L58.6 385.6 L58.6 387.1 L58.7 391.3 L58.7 383.3 L58.7 378.4 L58.8 382.8 L58.8 377.3 L58.8 376.3 L58.9 383.7 L58.9 385.3 L59.0 392.0 L59.0 384.4 L59.0 381.5 L59.1 378.6 L59.1 391.0 L59.2 384.3 L59.2 390.1 L59.2 389.2 L59.3 391.2 L59.3 389.9 L59.4 387.2 L59.4 383.0 L59.4 393.5 L59.5 389.3 L59.5 391.9 L59.6 390.7 L59.6 397.4 L59.6 390.4 L59.7 389.5 L59.7 382.4 L59.8 394.9 L59.8 387.6 L59.8 391.3 L59.9 393.7 L59.9 394.7 L60.0 399.1 L60.0 394.5 L60.0 398.3 L60.1 401.5 L60.1 395.4 L60.2 403.7 L60.2 404.7 L60.2 394.4 L60.3 393.3 L60.3 394.2 L60.4 396.9 L60.4 407.1 L60.4 393.6 L60.5 392.9 L60.5 397.3 L60.6 401.7 L60.6 403.6 L60.6 398.9 L60.7 405.0 L60.7 400.0 L60.8 406.2 L60.8 401.2 L60.8 416.2 L60.9 401.9 L60.9 403.1 L61.0 406.2 L61.0 403.3 L61.0 404.9 L61.1 412.4 L61.1 408.7 L61.2 407.4 L61.2 418.5 L61.2 413.8 L61.3 407.0 L61.3 412.5 L61.4 413.8 L61.4 410.6 L61.4 410.5 L61.5 411.4 L61.5 417.6 L61.6 413.5 L61.6 417.9 L61.6 411.7 L61.7 410.9 L61.7 411.6 L61.8 416.7 L61.8 417.4 L61.9 417.5 L61.9 411.5 L62.0 416.2 L62.0 415.2 L62.1 419.7 L62.1 418.6 L62.2 410.9 L62.2 418.7 L62.3 424.8 L62.3 421.5 L62.4 418.7 L62.4 411.8 L62.5 413.0 L62.5 421.0 L62.6 412.0 L62.6 417.3 L62.7 421.4 L62.7 430.6 L62.8 426.5 L62.8 422.2 L62.9 420.1 L62.9 420.0 L63.0 422.1 L63.0 428.4 L63.1 430.7 L63.1 427.2 L63.2 425.2 L63.2 431.3 L63.3 432.5 L63.3 426.7 L63.4 424.8 L63.4 426.2 L63.5 416.2 L63.5 431.7 L63.6 437.2 L63.6 426.1 L63.7 425.2 L63.7 427.8 L63.8 438.9 L63.8 432.6 L63.9 431.0 L63.9 437.0 L64.0 434.4 L64.0 428.3 L64.1 428.9 L64.1 424.7 L64.2 428.4 L64.2 433.4 L64.3 435.7 L64.3 431.8 L64.4 442.5 L64.4 425.8 L64.5 432.1 L64.5 436.0 L64.6 434.2 L64.6 432.6 L64.7 440.9 L64.7 440.9 L64.8 434.2 L64.9 446.0 L64.9 445.8 L65.0 443.6 L65.0 436.3 L65.1 446.0 L65.2 439.8 L65.2 445.0 L65.3 446.9 L65.3 439.0 L65.4 436.8 L65.5 439.6 L65.6 440.6 L65.6 439.3 L65.7 436.7 L65.8 451.5 L65.8 444.7 L65.9 450.6 L66.0 450.7 L66.1 448.9 L66.1 446.0 L66.2 453.7 L66.3 441.1 L66.3 443.7 L66.4 443.6 L66.5 453.4 L66.5 440.5 L66.6 453.7 L66.7 453.0 L66.8 456.3 L66.8 454.8 L66.9 452.8 L67.0 450.3 L67.0 448.1 L67.1 443.8 L67.2 452.2 L67.2 457.1 L67.3 455.2 L67.4 451.3 L67.5 450.4 L67.5 457.1 L67.6 465.1 L67.7 455.2 L67.7 449.9 L67.8 465.7 L67.9 458.9 L67.9 452.0 L68.0 464.8 L68.1 449.1 L68.2 465.7 L68.2 449.5 L68.3 456.5 L68.4 454.7 L68.4 457.0 L68.5 455.9 L68.6 460.1 L68.7 451.2 L68.8 465.8 L68.9 466.4 L69.0 464.3 L69.0 461.4 L69.1 456.8 L69.2 461.2 L69.3 457.6 L69.4 458.2 L69.5 466.8 L69.6 459.0 L69.7 466.5 L69.8 466.0 L69.9 469.6 L70.0 466.8 L70.0 472.1 L70.1 470.7 L70.2 467.0 L70.3 467.6 L70.4 470.6 L70.5 463.8 L70.6 467.5 L70.7 460.8 L70.8 471.1 L70.9 465.6 L71.0 469.9 L71.0 469.1 L71.1 476.5 L71.2 470.0 L71.3 480.5 L71.4 476.3 L71.6 473.7 L71.7 475.0 L71.8 474.4 L71.9 475.1 L72.0 478.3 L72.2 473.4 L72.3 480.1 L72.4 475.8 L72.6 470.5 L72.7 483.1 L72.9 481.1 L73.0 477.6 L73.1 492.6 L73.3 473.4 L73.4 478.5 L73.6 475.2 L73.8 475.7 L74.0 477.3 L74.2 481.8 L74.5 468.6 L74.7 483.0 L75.0 480.5 L75.3 480.0 L75.6 483.2 L75.8 473.8 L76.1 473.0 L76.4 481.9 L76.6 477.7 L76.9 488.0 L77.1 478.3 L77.3 484.8 L77.5 477.5 L77.7 469.6 L77.9 484.0 L78.1 477.2 L78.4 465.4 L78.6 471.0 L78.8 469.5 L79.0 470.2 L79.2 469.1 L79.4 471.4 L79.6 476.5 L79.8 475.7 L80.0 471.2 L80.2 477.0 L80.4 471.1 L80.6 474.1 L80.8 467.7 L81.1 466.5 L81.3 465.4 L81.5 462.6 L81.7 472.1 L81.9 468.2 L82.1 465.1 L82.3 463.6 L82.5 460.6 L82.7 477.1 L82.9 465.5 L83.1 463.3 L83.3 470.7 L83.5 470.4 L83.6 466.4 L83.8 457.0 L83.9 464.8 L84.0 466.7 L84.1 465.1 L84.3 463.8 L84.4 470.0 L84.5 450.6 L84.6 461.4 L84.7 466.9 L84.8 448.3 L84.9 459.0 L85.0 465.8 L85.1 466.7 L85.2 458.6 L85.4 467.4 L85.5 462.6 L85.6 461.5 L85.7 463.4 L85.8 458.2 L85.9 448.0 L86.0 463.7 L86.1 449.3 L86.2 449.4 L86.3 459.2 L86.5 458.4 L86.6 453.3 L86.7 455.8 L86.8 454.3 L86.9 459.7 L87.0 447.4 L87.1 448.3 L87.2 456.8 L87.3 449.4 L87.4 458.9 L87.5 448.0 L87.6 453.7 L87.8 446.5 L87.9 453.5 L88.0 447.9 L88.1 457.6 L88.2 444.4 L88.3 448.5 L88.4 444.3 L88.5 450.6 L88.6 446.0 L88.7 449.0 L88.8 439.5 L88.9 445.4 L89.0 446.7 L89.1 442.6 L89.2 443.6 L89.4 443.2 L89.5 448.4 L89.6 440.0 L89.7 451.2 L89.8 442.1 L89.9 440.1 L90.0 448.1 L90.2 443.2 L90.3 447.1 L90.4 443.1 L90.5 431.6 L90.7 440.8 L90.8 446.3 L90.9 442.9 L91.1 441.4 L91.2 434.9 L91.3 436.1 L91.5 431.8 L91.6 430.9 L91.8 427.7 L91.9 438.5 L92.0 444.6 L92.2 435.2 L92.3 435.6 L92.4 432.5 L92.6 431.5 L92.7 430.7 L92.8 431.1 L93.0 441.5 L93.1 429.6 L93.2 438.0 L93.4 432.8 L93.5 424.7 L93.6 427.3 L93.8 437.5 L93.9 434.8 L94.0 431.3 L94.2 430.8 L94.3 429.1 L94.4 423.3 L94.6 427.1 L94.7 430.0 L94.8 424.2 L95.0 430.9 L95.1 425.0 L95.3 426.4 L95.4 429.1 L95.5 425.1 L95.7 431.8 L95.8 425.1 L95.9 431.2 L96.1 431.1 L96.2 427.9 L96.3 425.5 L96.5 418.0 L96.6 428.1 L96.8 420.4 L96.9 428.6 L97.1 418.5 L97.2 422.8 L97.4 430.1 L97.6 424.0 L97.7 420.2 L97.9 412.1 L98.1 420.2 L98.3 418.5 L98.5 422.8 L98.6 421.2 L98.8 417.9 L99.0 418.6 L99.2 408.1 L99.4 416.0 L99.5 416.8 L99.7 419.6 L99.9 414.7 L100.1 419.8 L100.3 418.7 L100.5 414.7 L100.6 409.9 L100.8 411.5 L101.0 407.8 L101.2 405.6 L101.4 416.5 L101.5 406.8 L101.7 409.2 L101.9 411.5 L102.1 413.7 L102.3 411.6 L102.5 412.5 L102.6 419.1 L102.8 415.3 L103.0 398.1 L103.2 398.0 L103.4 406.3 L103.5 409.5 L103.7 414.5 L103.9 405.2 L104.1 407.6 L104.3 403.1 L104.5 412.4 L104.6 407.6 L104.8 398.9 L105.0 399.8 L105.2 407.5 L105.4 405.9 L105.6 409.4 L105.7 404.5 L105.9 403.2 L106.1 402.9 L106.3 408.3 L106.5 388.7 L106.7 393.9 L106.9 404.2 L107.0 396.9 L107.2 400.0 L107.4 393.2 L107.6 394.0 L107.8 403.2 L108.0 403.0 L108.1 394.7 L108.3 396.1 L108.5 398.4 L108.7 398.5 L108.9 411.3 L109.1 398.8 L109.3 384.3 L109.4 401.9 L109.6 393.6 L109.8 392.7 L110.0 393.3 L110.2 397.2 L110.3 398.0 L110.5 405.9 L110.7 401.8 L110.9 400.2 L111.1 396.9 L111.2 406.6 L111.4 390.7 L111.6 391.0 L111.8 398.6 L111.9 397.0 L112.1 395.2 L112.3 389.7 L112.5 393.0 L112.6 398.3 L112.8 401.7 L113.0 390.3 L113.2 394.8 L113.3 393.1 L113.5 381.7 L113.7 397.6 L113.9 392.1 L114.1 392.7 L114.2 383.6 L114.4 387.8 L114.6 394.8 L114.8 384.0 L114.9 387.3 L115.1 384.8 L115.3 386.0 L115.5 384.4 L115.6 383.9 L115.8 383.6 L116.0 378.7 L116.2 381.7 L116.4 390.4 L116.6 381.2 L116.8 375.8 L117.0 383.8 L117.2 389.5 L117.5 379.6 L117.7 375.8 L117.9 371.9 L118.2 378.8 L118.4 379.5 L118.7 384.4 L118.9 376.1 L119.1 380.4 L119.4 387.5 L119.6 375.8 L119.9 376.6 L120.1 378.4 L120.4 373.9 L120.6 374.2 L120.9 375.1 L121.1 374.2 L121.3 370.2 L121.6 377.9 L121.8 374.4 L122.1 372.5 L122.3 383.2 L122.6 375.9 L122.8 374.3 L123.0 374.4 L123.3 363.3 L123.5 378.2 L123.8 372.3 L124.0 377.1 L124.3 374.7 L124.5 365.0 L124.8 376.1 L125.0 371.2 L125.3 376.6 L125.5 376.5 L125.8 370.7 L126.1 367.2 L126.3 372.2 L126.6 369.1 L126.8 358.4 L127.1 372.0 L127.4 374.4 L127.6 366.4 L127.9 364.8 L128.2 365.6 L128.4 361.5 L128.7 365.8 L128.9 365.0 L129.2 369.0 L129.5 370.7 L129.7 361.9 L130.0 365.2 L130.2 370.3 L130.5 361.1 L130.8 365.7 L131.0 357.6 L131.3 365.5 L131.6 365.2 L131.8 355.8 L132.1 370.4 L132.4 359.3 L132.6 359.1 L132.9 363.5 L133.1 362.5 L133.4 365.7 L133.7 364.7 L134.0 358.1 L134.2 365.1 L134.5 354.1 L134.8 358.8 L135.1 362.9 L135.3 360.8 L135.6 354.3 L135.9 354.6 L136.2 355.2 L136.4 360.4 L136.7 365.1 L137.0 358.4 L137.2 356.0 L137.5 354.9 L137.8 355.8 L138.1 355.3 L138.3 349.5 L138.6 355.2 L138.9 356.6 L139.2 361.7 L139.5 357.5 L139.7 361.9 L140.0 353.8 L140.3 356.9 L140.6 352.9 L140.9 359.6 L141.1 356.1 L141.4 349.3 L141.7 347.6 L142.0 345.7 L142.3 348.3 L142.6 344.0 L142.9 353.8 L143.1 353.8 L143.4 346.6 L143.7 345.4 L144.0 345.9 L144.3 348.9 L144.6 355.9 L144.9 353.9 L145.2 338.7 L145.5 349.0 L145.8 350.4 L146.1 339.7 L146.4 349.6 L146.7 344.4 L147.0 337.2 L147.3 351.9 L147.7 349.1 L148.0 345.6 L148.3 354.7 L148.7 346.9 L149.0 348.2 L149.3 348.2 L149.7 341.2 L150.0 344.9 L150.3 344.6 L150.7 342.1 L151.0 343.1 L151.3 346.4 L151.7 342.0 L152.0 347.1 L152.4 339.0 L152.7 340.9 L153.1 342.7 L153.4 349.7 L153.8 340.8 L154.1 339.0 L154.5 345.9 L154.8 333.5 L155.2 346.0 L155.5 343.2 L155.9 334.0 L156.2 336.3 L156.6 341.8 L156.9 342.0 L157.3 340.3 L157.7 337.0 L158.0 337.7 L158.4 344.7 L158.8 343.8 L159.2 334.8 L159.5 349.6 L159.9 343.6 L160.3 339.3 L160.7 342.7 L161.0 335.8 L161.4 343.5 L161.8 340.6 L162.2 343.3 L162.6 332.3 L163.0 343.9 L163.3 337.5 L163.7 335.0 L164.1 336.1 L164.5 339.0 L164.9 338.4 L165.2 338.0 L165.6 337.7 L166.0 334.2 L166.4 334.4 L166.8 333.7 L167.2 337.9 L167.6 341.6 L168.0 331.8 L168.3 338.5 L168.7 329.4 L169.1 340.6 L169.5 335.6 L169.9 334.9 L170.3 330.8 L170.7 331.5 L171.1 338.4 L171.5 338.6 L171.9 340.4 L172.3 330.0 L172.7 328.8 L173.0 335.0 L173.4 335.9 L173.8 333.5 L174.2 330.2 L174.6 335.5 L175.0 335.7 L175.4 334.6 L175.8 332.6 L176.2 334.5 L176.5 337.7 L176.9 334.0 L177.3 328.5 L177.7 337.9 L178.1 333.7 L178.5 333.3 L178.8 330.0 L179.2 329.9 L179.6 323.8 L180.0 327.9 L180.4 327.4 L180.8 334.2 L181.2 335.6 L181.5 336.5 L181.9 324.0 L182.3 328.5 L182.7 330.8 L183.1 335.5 L183.5 333.7 L183.8 336.0 L184.2 332.2 L184.6 328.5 L185.0 336.6 L185.4 331.4 L185.8 332.9 L186.2 335.2 L186.6 333.7 L187.0 326.1 L187.4 330.3 L187.8 325.1 L188.1 337.5 L188.5 335.4 L188.9 333.3 L189.3 323.3 L189.7 330.0 L190.1 334.6 L190.5 331.9 L190.9 325.1 L191.3 326.1 L191.7 328.5 L192.1 329.5 L192.5 323.2 L192.9 329.0 L193.2 324.1 L193.6 332.2 L194.0 328.4 L194.4 330.8 L194.8 325.8 L195.2 329.0 L195.6 329.0 L196.0 330.8 L196.4 326.3 L196.8 328.0 L197.2 319.7 L197.6 326.0 L198.0 328.0 L198.4 328.1 L198.8 328.6 L199.2 326.1 L199.6 326.1 L200.0 331.6 L200.4 328.2 L200.8 325.0 L201.2 322.9 L201.6 323.2 L202.0 324.7 L202.4 321.2 L202.8 329.7 L203.2 328.9 L203.6 335.3 L204.0 326.4 L204.4 322.6 L204.8 324.6 L205.2 327.0 L205.6 328.4 L206.0 324.1 L206.4 324.1 L206.8 320.2 L207.2 319.8 L207.6 324.7 L208.0 324.8 L208.4 319.1 L208.9 325.4 L209.3 318.7 L209.7 327.2 L210.1 320.8 L210.5 320.9 L210.9 330.2 L211.3 325.5 L211.7 326.3 L212.1 325.7 L212.5 323.6 L212.9 329.1 L213.3 329.7 L213.7 324.7 L214.1 328.0 L214.6 323.9 L215.0 325.3 L215.4 325.0 L215.8 324.8 L216.2 322.2 L216.6 328.4 L217.0 325.0 L217.4 328.5 L217.8 322.4 L218.2 321.6 L218.6 325.6 L219.0 327.1 L219.4 321.3 L219.9 319.7 L220.3 324.6 L220.7 327.8 L221.1 321.2 L221.5 323.5 L221.9 320.7 L222.3 327.8 L222.7 319.4 L223.1 322.8 L223.5 326.7 L223.9 322.3 L224.3 315.8 L224.7 330.4 L225.1 319.5 L225.6 328.6 L226.0 323.0 L226.4 323.2 L226.8 320.3 L227.2 320.6 L227.6 325.0 L228.0 316.7 L228.4 320.7 L228.8 319.1 L229.2 324.8 L229.6 323.4 L230.0 321.8 L230.4 321.8 L230.8 331.4 L231.2 322.5 L231.6 325.9 L232.0 318.8 L232.4 318.7 L232.8 320.8 L233.2 321.4 L233.6 320.8 L234.0 320.6 L234.4 321.0 L234.8 322.1 L235.2 322.4 L235.6 324.4 L236.0 324.7 L236.4 323.8 L236.8 321.2 L237.2 320.4 L237.6 321.3 L238.0 318.3 L238.4 326.3 L238.8 323.8 L239.2 322.1 L239.6 318.7 L240.0 319.6 L240.4 323.5 L240.8 320.6 L241.2 324.4 L241.6 329.2 L242.0 317.5 L242.4 308.8 L242.8 320.8 L243.2 314.9 L243.6 320.8 L244.0 320.6 L244.4 319.2 L244.8 322.8 L245.2 318.3 L245.6 324.1 L246.0 317.7 L246.4 317.8 L246.8 322.3 L247.2 325.1 L247.6 316.9 L248.0 319.2 L248.4 319.0 L248.8 322.5 L249.2 320.5 L249.6 317.7 L250.0 315.0 L250.4 327.0 L250.8 319.9 L251.2 327.1 L251.6 319.5 L252.0 323.9 L252.4 321.6 L252.8 323.2 L253.2 319.9 L253.6 317.9 L254.0 320.9 L254.4 315.0 L254.8 321.3 L255.2 314.5 L255.6 321.3 L256.0 320.6 L256.4 312.9 L256.8 319.3 L257.2 321.6 L257.6 323.0 L258.0 315.1 L258.4 318.0 L258.8 317.3 L259.2 324.8 L259.6 321.0 L260.0 323.7 L260.4 322.4 L260.9 319.5 L261.3 325.5 L261.7 317.7 L262.1 316.3 L262.5 317.4 L262.9 318.9 L263.3 328.1 L263.7 324.7 L264.1 321.8 L264.5 323.7 L264.9 328.0 L265.3 327.2 L265.7 312.6 L266.1 319.4 L266.5 320.6 L266.9 320.5 L267.3 323.9 L267.7 317.5 L268.1 322.1 L268.5 323.1 L268.9 320.0 L269.3 315.4 L269.7 317.7 L270.1 323.6 L270.6 329.4 L271.0 312.3 L271.4 322.9 L271.8 320.8 L272.2 319.6 L272.6 321.2 L273.0 320.0 L273.3 319.0 L273.7 315.9 L274.0 321.2 L274.2 318.8 L274.4 316.5" fill="none" stroke="#5a5a5a" stroke-width="2.0" stroke-linejoin="round" stroke-linecap="round" />
<path d="M33.0 310.8 L33.3 336.2 L33.5 327.3 L33.8 325.4 L34.1 327.3 L34.5 312.5 L34.9 323.1 L35.3 319.8 L35.7 317.6 L36.1 314.0 L36.5 330.4 L36.9 324.2 L37.3 317.8 L37.7 323.6 L38.1 318.3 L38.5 313.6 L38.9 329.3 L39.3 321.1 L39.7 312.2 L40.1 306.7 L40.5 317.5 L40.9 309.3 L41.3 323.7 L41.7 322.8 L42.1 320.7 L42.5 319.6 L43.0 318.0 L43.4 313.1 L43.8 326.2 L44.2 326.4 L44.6 315.5 L45.0 315.0 L45.4 320.8 L45.8 322.4 L46.2 316.8 L46.6 317.0 L47.0 320.8 L47.4 320.7 L47.8 321.5 L48.2 323.9 L48.6 311.6 L49.0 318.0 L49.4 321.9 L49.8 323.6 L50.2 323.8 L50.6 315.6 L51.0 319.5 L51.4 326.2 L51.7 315.3 L52.0 311.8 L52.3 324.6 L52.5 316.0 L52.7 315.7 L52.9 321.9 L53.0 325.7 L53.2 317.6 L53.2 320.9 L53.3 323.8 L53.3 326.6 L53.4 328.5 L53.4 321.6 L53.5 328.6 L53.5 324.2 L53.6 326.9 L53.6 325.6 L53.7 323.1 L53.7 324.3 L53.8 324.0 L53.8 324.4 L53.9 327.5 L53.9 326.2 L54.0 330.0 L54.0 334.7 L54.1 334.8 L54.1 333.5 L54.2 332.3 L54.2 326.8 L54.3 330.4 L54.3 332.2 L54.4 339.1 L54.4 330.5 L54.5 335.4 L54.5 330.7 L54.6 333.4 L54.6 329.7 L54.6 335.9 L54.7 337.8 L54.7 332.6 L54.8 336.5 L54.8 334.7 L54.8 335.6 L54.9 333.7 L54.9 336.0 L54.9 342.2 L54.9 337.2 L55.0 339.2 L55.0 339.7 L55.0 340.2 L55.0 337.5 L55.1 341.3 L55.1 339.5 L55.1 344.9 L55.1 338.1 L55.1 342.5 L55.2 337.5 L55.2 343.3 L55.2 346.1 L55.2 341.4 L55.3 340.4 L55.3 346.4 L55.3 345.0 L55.3 348.7 L55.4 347.9 L55.4 344.8 L55.4 345.7 L55.4 345.4 L55.4 345.8 L55.5 345.1 L55.5 345.8 L55.5 350.6 L55.5 351.5 L55.6 352.6 L55.6 342.8 L55.6 351.3 L55.6 352.3 L55.7 352.5 L55.7 350.5 L55.7 349.5 L55.7 350.8 L55.7 348.8 L55.8 348.3 L55.8 351.4 L55.8 356.0 L55.8 351.1 L55.9 351.6 L55.9 348.0 L55.9 348.2 L55.9 353.4 L55.9 358.0 L56.0 351.3 L56.0 356.8 L56.0 353.6 L56.0 363.3 L56.1 363.3 L56.1 352.4 L56.1 355.8 L56.1 363.4 L56.2 359.4 L56.2 355.1 L56.2 356.0 L56.2 363.7 L56.2 363.6 L56.3 359.6 L56.3 362.3 L56.3 365.5 L56.3 364.0 L56.4 363.8 L56.4 359.8 L56.4 362.3 L56.4 364.9 L56.5 359.0 L56.5 364.2 L56.5 363.4 L56.5 366.1 L56.5 360.5 L56.6 365.8 L56.6 364.9 L56.6 370.3 L56.6 364.7 L56.7 367.8 L56.7 369.4 L56.7 368.6 L56.7 370.1 L56.8 373.0 L56.8 368.5 L56.8 366.7 L56.9 371.3 L56.9 375.7 L56.9 367.8 L57.0 376.8 L57.0 370.1 L57.1 374.2 L57.1 371.8 L57.1 369.1 L57.2 370.6 L57.2 379.3 L57.3 370.5 L57.3 373.9 L57.4 367.9 L57.4 378.8 L57.5 373.8 L57.5 376.2 L57.5 372.5 L57.6 381.2 L57.6 379.8 L57.7 378.5 L57.7 382.3 L57.8 380.8 L57.8 377.6 L57.8 378.7 L57.9 377.7 L57.9 380.0 L58.0 385.6 L58.0 380.6 L58.1 385.2 L58.1 385.6 L58.1 382.4 L58.2 389.5 L58.2 382.4 L58.3 385.1 L58.3 386.2 L58.4 384.0 L58.4 387.6 L58.5 386.2 L58.5 386.4 L58.5 387.3 L58.6 388.3 L58.6 388.6 L58.7 383.1 L58.7 391.0 L58.8 390.5 L58.8 390.4 L58.8 387.0 L58.9 392.9 L58.9 395.8 L59.0 391.5 L59.0 392.1 L59.1 390.4 L59.1 387.4 L59.2 395.9 L59.2 385.2 L59.2 389.7 L59.3 393.9 L59.3 393.9 L59.4 391.8 L59.4 396.8 L59.5 398.0 L59.5 394.9 L59.6 396.5 L59.6 401.1 L59.7 395.6 L59.7 397.6 L59.8 396.8 L59.9 401.8 L59.9 396.2 L60.0 398.5 L60.0 397.1 L60.1 398.6 L60.2 399.1 L60.2 396.5 L60.3 398.9 L60.3 399.7 L60.4 401.2 L60.5 400.5 L60.5 402.7 L60.6 404.8 L60.6 400.8 L60.7 397.2 L60.8 405.5 L60.8 404.9 L60.9 399.7 L60.9 400.5 L61.0 410.3 L61.1 406.9 L61.1 412.6 L61.2 407.4 L61.3 403.9 L61.3 408.4 L61.4 404.6 L61.4 406.6 L61.5 408.8 L61.6 412.6 L61.6 407.0 L61.7 411.4 L61.7 407.4 L61.8 406.0 L61.9 410.8 L61.9 407.4 L62.0 415.0 L62.0 414.1 L62.1 405.9 L62.2 409.1 L62.2 412.9 L62.3 414.1 L62.3 416.5 L62.4 429.1 L62.5 420.1 L62.5 412.9 L62.6 425.4 L62.6 413.0 L62.7 411.3 L62.8 424.2 L62.8 404.5 L62.9 418.9 L63.0 428.8 L63.1 408.6 L63.2 409.1 L63.3 435.8 L63.4 420.2 L63.5 425.3 L63.6 413.5 L63.8 431.6 L63.9 410.8 L64.0 438.4 L64.1 414.0 L64.2 418.9 L64.4 432.3 L64.5 417.2 L64.6 430.9 L64.8 422.9 L64.9 420.6 L65.0 432.0 L65.1 421.5 L65.2 430.5 L65.4 420.1 L65.5 426.6 L65.6 422.0 L65.8 433.4 L65.9 438.6 L66.0 430.4 L66.1 417.1 L66.3 432.0 L66.4 431.4 L66.6 421.6 L66.7 432.2 L66.9 423.3 L67.0 428.4 L67.2 419.7 L67.3 438.5 L67.5 430.5 L67.7 427.7 L67.8 422.4 L68.0 431.6 L68.2 412.6 L68.3 427.5 L68.5 414.5 L68.7 428.0 L68.8 414.6 L69.0 418.3 L69.2 424.3 L69.3 428.5 L69.5 433.3 L69.7 420.5 L69.8 409.1 L70.0 407.6 L70.1 411.6 L70.3 415.4 L70.5 424.1 L70.6 423.3 L70.7 425.8 L70.9 396.3 L71.0 408.2 L71.2 416.4 L71.3 406.8 L71.4 420.1 L71.6 414.9 L71.7 417.4 L71.8 411.5 L72.0 421.2 L72.1 416.1 L72.2 414.8 L72.4 405.0 L72.5 421.3 L72.6 417.6 L72.8 414.4 L72.9 407.2 L73.0 404.6 L73.1 423.6 L73.3 411.9 L73.4 420.3 L73.5 419.8 L73.7 423.5 L73.8 421.3 L73.9 412.0 L74.1 398.9 L74.2 418.3 L74.3 415.6 L74.5 397.7 L74.6 406.5 L74.8 391.2 L74.9 400.8 L75.1 402.0 L75.3 410.1 L75.4 405.2 L75.6 404.1 L75.8 401.7 L76.0 418.0 L76.2 407.8 L76.4 401.4 L76.6 405.3 L76.8 406.7 L77.0 404.6 L77.2 389.8 L77.4 408.4 L77.6 389.6 L77.8 396.3 L78.0 398.7 L78.2 393.0 L78.4 404.0 L78.6 386.9 L78.9 410.2 L79.1 411.6 L79.3 409.8 L79.5 399.7 L79.8 405.0 L80.0 392.9 L80.3 414.1 L80.5 395.2 L80.8 395.9 L81.0 396.8 L81.3 390.8 L81.6 385.4 L81.8 399.3 L82.1 406.8 L82.3 395.7 L82.6 396.8 L82.8 403.5 L83.1 398.2 L83.3 396.1 L83.5 389.4 L83.7 396.4 L84.0 387.4 L84.2 391.9 L84.4 384.4 L84.6 392.5 L84.8 400.5 L85.0 389.0 L85.2 400.7 L85.4 391.2 L85.5 395.9 L85.7 405.0 L85.9 393.1 L86.1 399.0 L86.3 382.4 L86.5 402.4 L86.7 389.4 L86.9 388.7 L87.1 396.3 L87.3 390.8 L87.4 387.6 L87.6 394.6 L87.7 379.1 L87.9 371.9 L88.1 390.8 L88.2 400.2 L88.3 381.9 L88.5 384.8 L88.6 388.6 L88.8 386.2 L88.9 375.4 L89.0 376.9 L89.2 387.1 L89.3 388.6 L89.5 390.3 L89.6 382.4 L89.8 370.3 L90.0 394.1 L90.1 380.0 L90.3 371.7 L90.5 377.9 L90.7 383.2 L91.0 391.7 L91.2 383.6 L91.4 381.1 L91.7 380.2 L91.9 380.0 L92.2 390.7 L92.4 382.5 L92.6 373.7 L92.9 380.3 L93.1 380.7 L93.4 370.0 L93.6 378.9 L93.8 362.3 L94.1 378.7 L94.3 373.8 L94.6 377.1 L94.8 372.0 L95.0 387.9 L95.3 372.4 L95.5 359.3 L95.7 385.8 L96.0 368.3 L96.2 363.6 L96.4 368.2 L96.7 366.5 L96.9 378.5 L97.1 364.7 L97.3 374.6 L97.6 364.3 L97.8 371.9 L98.0 368.2 L98.2 367.8 L98.4 360.7 L98.7 369.7 L98.9 364.2 L99.1 352.9 L99.3 367.8 L99.6 361.0 L99.8 361.7 L100.0 359.5 L100.2 371.1 L100.4 369.4 L100.7 364.1 L100.9 362.5 L101.1 361.4 L101.3 368.5 L101.6 370.4 L101.8 360.0 L102.0 368.2 L102.2 354.7 L102.4 359.5 L102.7 361.3 L102.9 361.4 L103.1 355.5 L103.3 364.8 L103.6 355.6 L103.8 358.3 L104.0 355.4 L104.2 363.6 L104.4 360.4 L104.7 360.1 L104.9 350.7 L105.1 357.5 L105.3 355.2 L105.6 352.8 L105.8 357.7 L106.0 362.7 L106.3 350.9 L106.5 363.7 L106.7 359.1 L107.0 353.5 L107.2 358.8 L107.4 355.9 L107.7 347.9 L107.9 352.1 L108.2 351.4 L108.4 353.0 L108.6 356.9 L108.9 350.8 L109.1 361.5 L109.4 348.6 L109.6 350.9 L109.9 346.6 L110.1 362.9 L110.3 349.2 L110.6 357.4 L110.8 341.1 L111.1 350.9 L111.3 352.8 L111.5 354.3 L111.8 351.1 L112.0 354.0 L112.3 348.8 L112.5 338.0 L112.8 350.7 L113.0 345.8 L113.3 350.3 L113.5 350.6 L113.8 347.8 L114.1 345.2 L114.3 343.0 L114.6 349.3 L114.8 340.4 L115.1 342.3 L115.4 355.0 L115.6 348.9 L115.9 351.1 L116.1 346.0 L116.4 345.4 L116.7 345.7 L116.9 344.3 L117.2 339.2 L117.4 340.1 L117.7 336.3 L118.0 343.1 L118.2 341.8 L118.5 350.8 L118.8 338.2 L119.0 332.9 L119.3 337.2 L119.6 335.3 L119.9 347.1 L120.1 330.3 L120.4 336.6 L120.7 339.7 L121.0 341.6 L121.3 333.4 L121.6 335.7 L121.9 339.4 L122.1 344.6 L122.4 335.2 L122.7 337.1 L123.0 336.6 L123.3 332.5 L123.6 346.1 L123.9 335.9 L124.2 338.1 L124.5 336.5 L124.8 339.9 L125.1 331.0 L125.4 332.1 L125.7 335.8 L126.1 332.9 L126.4 330.8 L126.8 340.2 L127.1 327.6 L127.5 337.8 L127.8 333.9 L128.2 335.2 L128.5 324.8 L128.9 333.3 L129.2 327.9 L129.6 341.7 L129.9 326.8 L130.3 330.0 L130.7 330.2 L131.0 332.2 L131.4 325.0 L131.8 322.6 L132.2 335.4 L132.5 330.3 L132.9 323.6 L133.3 321.1 L133.7 332.3 L134.1 326.8 L134.4 326.7 L134.8 322.4 L135.2 325.6 L135.6 327.6 L136.0 329.0 L136.4 331.1 L136.7 329.9 L137.1 325.0 L137.5 323.9 L137.9 333.9 L138.3 322.9 L138.7 322.2 L139.0 324.1 L139.4 330.2 L139.8 326.7 L140.2 327.6 L140.6 327.4 L141.0 326.7 L141.4 317.1 L141.7 323.2 L142.1 324.6 L142.5 321.4 L142.9 336.3 L143.3 328.9 L143.7 333.8 L144.1 323.6 L144.5 329.1 L144.8 327.1 L145.2 326.7 L145.6 320.3 L146.0 327.9 L146.4 320.9 L146.8 317.3 L147.2 319.0 L147.6 322.3 L148.0 321.7 L148.4 327.6 L148.8 327.6 L149.2 318.4 L149.6 332.2 L150.0 324.1 L150.4 327.7 L150.8 321.1 L151.2 322.0 L151.6 329.1 L152.0 323.5 L152.4 322.3 L152.8 322.4 L153.2 319.2 L153.6 317.7 L154.0 312.3 L154.4 320.4 L154.8 318.2 L155.2 329.0 L155.6 322.7 L156.0 315.7 L156.4 328.6 L156.9 314.1 L157.3 319.4 L157.7 324.4 L158.1 316.8 L158.5 322.0 L158.9 321.4 L159.3 319.0 L159.7 327.0 L160.1 317.5 L160.5 332.7 L160.9 324.9 L161.3 316.1 L161.7 316.3 L162.1 320.1 L162.6 314.3 L163.0 320.9 L163.4 322.3 L163.8 315.5 L164.2 325.9 L164.6 322.3 L165.0 312.0 L165.4 319.7 L165.8 321.0 L166.2 322.6 L166.6 318.6 L167.0 319.0 L167.4 323.9 L167.8 317.8 L168.2 319.5 L168.6 316.5 L169.0 319.0 L169.4 310.7 L169.8 323.0 L170.2 322.5 L170.6 321.9 L171.0 324.6 L171.4 317.4 L171.8 315.8 L172.2 316.3 L172.6 316.1 L173.0 329.4 L173.4 321.7 L173.8 317.8 L174.2 313.9 L174.6 323.1 L175.0 316.6 L175.4 311.6 L175.8 310.5 L176.2 319.8 L176.6 317.4 L177.0 321.0 L177.4 314.6 L177.8 315.1 L178.2 322.1 L178.6 320.0 L179.0 317.6 L179.4 318.2 L179.8 312.4 L180.2 320.6 L180.7 319.7 L181.1 314.3 L181.5 313.0 L181.9 305.0 L182.3 322.0 L182.7 315.0 L183.1 323.8 L183.5 315.0 L183.9 319.8 L184.3 314.4 L184.7 315.6 L185.1 317.0 L185.5 313.8 L185.9 317.4 L186.3 312.9 L186.7 318.1 L187.1 320.3 L187.5 316.7 L187.9 317.3 L188.3 324.0 L188.7 320.5 L189.1 318.6 L189.5 317.8 L189.9 323.4 L190.3 315.8 L190.8 319.4 L191.2 318.7 L191.6 315.7 L192.0 319.7 L192.4 323.7 L192.8 313.7 L193.2 316.0 L193.6 322.6 L194.0 317.9 L194.4 317.1 L194.8 321.7 L195.2 321.4 L195.6 322.2 L196.0 323.4 L196.4 317.4 L196.8 311.4 L197.2 328.8 L197.6 320.4 L198.0 311.2 L198.4 320.9 L198.8 310.7 L199.2 311.7 L199.6 319.9 L200.0 317.7 L200.4 323.4 L200.8 320.5 L201.3 321.0 L201.7 328.7 L202.1 315.4 L202.5 318.4 L202.9 308.5 L203.3 320.6 L203.7 312.6 L204.1 321.5 L204.5 312.6 L204.9 320.8 L205.3 307.8 L205.7 305.1 L206.1 314.9 L206.5 312.1 L206.9 319.8 L207.3 314.0 L207.7 314.3 L208.1 315.1 L208.5 311.2 L208.9 317.6 L209.3 314.7 L209.7 316.0 L210.1 313.1 L210.5 320.6 L210.9 315.2 L211.3 316.7 L211.8 314.2 L212.2 317.8 L212.6 323.4 L213.0 319.7 L213.4 310.6 L213.8 311.7 L214.2 313.9 L214.6 317.6 L215.0 315.4 L215.4 323.6 L215.8 316.8 L216.2 320.1 L216.6 304.5 L217.0 315.0 L217.4 310.5 L217.8 321.8 L218.2 319.4 L218.6 318.4 L219.0 311.5 L219.4 306.4 L219.8 323.9 L220.2 322.4 L220.6 319.9 L221.0 325.8 L221.4 325.2 L221.8 323.4 L222.2 323.7 L222.6 317.5 L223.1 316.9 L223.5 317.8 L223.9 312.7 L224.3 321.6 L224.7 317.7 L225.1 320.5 L225.5 324.7 L225.9 320.3 L226.3 316.5 L226.7 313.6 L227.1 318.9 L227.5 314.3 L227.9 320.9 L228.3 319.6 L228.7 320.8 L229.1 315.9 L229.5 320.7 L229.9 317.6 L230.3 315.9 L230.7 325.1 L231.1 313.3 L231.5 319.4 L231.9 317.0 L232.3 316.9 L232.7 325.6 L233.1 323.1 L233.5 320.4 L233.9 315.4 L234.4 321.4 L234.8 324.6 L235.2 320.2 L235.6 311.6 L236.0 318.2 L236.4 316.8 L236.8 315.2 L237.2 318.7 L237.6 317.5 L238.0 311.4 L238.4 317.8 L238.8 313.2 L239.2 331.9 L239.6 308.8 L240.0 318.7 L240.4 325.2 L240.8 316.8 L241.2 321.9 L241.6 313.6 L242.0 329.5 L242.4 320.1 L242.8 322.0 L243.2 323.7 L243.6 320.3 L244.0 318.2 L244.4 318.1 L244.8 309.5 L245.2 316.3 L245.6 318.2 L246.0 314.1 L246.4 316.1 L246.8 326.4 L247.2 315.1 L247.6 319.6 L248.0 315.3 L248.4 313.9 L248.8 308.9 L249.2 311.7 L249.6 309.3 L250.0 322.1 L250.4 319.6 L250.8 318.8 L251.2 317.9 L251.6 323.5 L252.0 320.1 L252.4 318.2 L252.8 314.6 L253.2 316.9 L253.6 314.5 L254.0 316.6 L254.4 320.5 L254.8 322.9 L255.2 323.2 L255.6 319.1 L256.0 314.3 L256.4 323.6 L256.8 316.1 L257.2 315.3 L257.6 317.0 L258.0 318.0 L258.4 323.2 L258.8 323.6 L259.2 319.9 L259.6 325.3 L260.0 315.5 L260.4 317.0 L260.8 322.8 L261.2 320.7 L261.6 325.5 L262.0 320.3 L262.4 323.1 L262.8 320.2 L263.2 315.9 L263.6 327.2 L264.1 317.0 L264.5 318.7 L264.9 317.2 L265.3 315.0 L265.7 317.2 L266.1 315.2 L266.5 322.3 L266.9 321.0 L267.3 317.5 L267.7 321.8 L268.1 317.7 L268.5 313.7 L268.9 318.0 L269.3 318.8 L269.7 319.0 L270.1 320.1 L270.5 314.0 L270.9 323.0 L271.4 312.4 L271.8 322.8 L272.2 320.2 L272.6 320.1 L273.0 325.3 L273.3 318.9 L273.7 315.3 L274.0 318.8 L274.2 322.2 L274.4 318.0" fill="none" stroke="#404040" stroke-width="2.0" stroke-linejoin="round" stroke-linecap="round" />
<text x="67.6" y="341.3" font-size="12.5" fill="#bdbdbd" text-anchor="start" textLength="27.6" lengthAdjust="spacingAndGlyphs">DCK</text>
<line x1="92.9" y1="402.4" x2="137.5" y2="402.4" stroke="#444444" stroke-width="1.8" /><polygon points="85.6,402.4 93.9,399.7 93.9,405.1" fill="#444444"/>
<text x="143.5" y="406.6" font-size="14" fill="#101010" text-anchor="start" >Control</text>
<line x1="83.3" y1="430.5" x2="137.5" y2="430.5" stroke="#8c8c8c" stroke-width="1.7" />
<text x="141.0" y="434.8" font-size="14" fill="#8a8a8a" text-anchor="start" textLength="103" lengthAdjust="spacingAndGlyphs">Glycine (100 μM)</text>
<line x1="95.5" y1="471.0" x2="137.5" y2="471.0" stroke="#585858" stroke-width="1.8" /><polygon points="88.2,471.0 96.5,468.3 96.5,473.7" fill="#585858"/>
<text x="142.5" y="475.6" font-size="14" fill="#101010" text-anchor="start" textLength="106.8" lengthAdjust="spacingAndGlyphs">D-serine (100 μM)</text>
<path d="M235.6 348.4 L235.6 369.5 L273 369.5" fill="none" stroke="#3c3c3c" stroke-width="1.4" stroke-linejoin="round" stroke-linecap="round" stroke-linecap="butt"/>
<text x="205.2" y="360.1" font-size="10.5" fill="#101010" text-anchor="start" >20 pA</text>
<text x="244.2" y="380.7" font-size="10.5" fill="#101010" text-anchor="start" >5 sec</text>
<!-- Panel D -->
<text x="323.8" y="276.8" font-size="25" fill="#101010" text-anchor="start" >D</text>
<text x="446.2" y="288.8" font-size="21.5" fill="#101010" text-anchor="start" textLength="122" lengthAdjust="spacingAndGlyphs">NMDA “puff”</text>
<path d="M372.8 300.8 L372.8 476.5 L591 476.5" fill="none" stroke="#5e5e5e" stroke-width="1.8" stroke-linejoin="round" stroke-linecap="round" stroke-linecap="butt" stroke-linejoin="miter"/>
<line x1="368.8" y1="455.5" x2="372.8" y2="455.5" stroke="#4a4a4a" stroke-width="1.0" />
<text x="364.3" y="458.8" font-size="11" fill="#101010" text-anchor="end" >100</text>
<line x1="368.8" y1="404.4" x2="372.8" y2="404.4" stroke="#4a4a4a" stroke-width="1.0" />
<text x="364.3" y="407.7" font-size="11" fill="#101010" text-anchor="end" >110</text>
<line x1="368.8" y1="353.2" x2="372.8" y2="353.2" stroke="#4a4a4a" stroke-width="1.0" />
<text x="364.3" y="356.5" font-size="11" fill="#101010" text-anchor="end" >120</text>
<line x1="368.8" y1="302.1" x2="372.8" y2="302.1" stroke="#4a4a4a" stroke-width="1.0" />
<text x="364.3" y="305.4" font-size="11" fill="#101010" text-anchor="end" >130</text>
<line x1="376.9" y1="476.5" x2="376.9" y2="478.8" stroke="#4a4a4a" stroke-width="0.9" />
<line x1="380.4" y1="476.5" x2="380.4" y2="478.8" stroke="#4a4a4a" stroke-width="0.9" />
<line x1="383.5" y1="476.5" x2="383.5" y2="480.1" stroke="#4a4a4a" stroke-width="1.1" />
<line x1="404.0" y1="476.5" x2="404.0" y2="478.8" stroke="#4a4a4a" stroke-width="0.9" />
<line x1="416.0" y1="476.5" x2="416.0" y2="478.8" stroke="#4a4a4a" stroke-width="0.9" />
<line x1="424.5" y1="476.5" x2="424.5" y2="478.8" stroke="#4a4a4a" stroke-width="0.9" />
<line x1="431.1" y1="476.5" x2="431.1" y2="478.8" stroke="#4a4a4a" stroke-width="0.9" />
<line x1="436.5" y1="476.5" x2="436.5" y2="478.8" stroke="#4a4a4a" stroke-width="0.9" />
<line x1="441.1" y1="476.5" x2="441.1" y2="478.8" stroke="#4a4a4a" stroke-width="0.9" />
<line x1="445.0" y1="476.5" x2="445.0" y2="478.8" stroke="#4a4a4a" stroke-width="0.9" />
<line x1="448.5" y1="476.5" x2="448.5" y2="478.8" stroke="#4a4a4a" stroke-width="0.9" />
<line x1="451.6" y1="476.5" x2="451.6" y2="480.1" stroke="#4a4a4a" stroke-width="1.1" />
<line x1="472.1" y1="476.5" x2="472.1" y2="478.8" stroke="#4a4a4a" stroke-width="0.9" />
<line x1="484.1" y1="476.5" x2="484.1" y2="478.8" stroke="#4a4a4a" stroke-width="0.9" />
<line x1="492.6" y1="476.5" x2="492.6" y2="478.8" stroke="#4a4a4a" stroke-width="0.9" />
<line x1="499.2" y1="476.5" x2="499.2" y2="478.8" stroke="#4a4a4a" stroke-width="0.9" />
<line x1="504.6" y1="476.5" x2="504.6" y2="478.8" stroke="#4a4a4a" stroke-width="0.9" />
<line x1="509.2" y1="476.5" x2="509.2" y2="478.8" stroke="#4a4a4a" stroke-width="0.9" />
<line x1="513.1" y1="476.5" x2="513.1" y2="478.8" stroke="#4a4a4a" stroke-width="0.9" />
<line x1="516.6" y1="476.5" x2="516.6" y2="478.8" stroke="#4a4a4a" stroke-width="0.9" />
<line x1="519.7" y1="476.5" x2="519.7" y2="480.1" stroke="#4a4a4a" stroke-width="1.1" />
<line x1="540.2" y1="476.5" x2="540.2" y2="478.8" stroke="#4a4a4a" stroke-width="0.9" />
<line x1="552.2" y1="476.5" x2="552.2" y2="478.8" stroke="#4a4a4a" stroke-width="0.9" />
<line x1="560.7" y1="476.5" x2="560.7" y2="478.8" stroke="#4a4a4a" stroke-width="0.9" />
<line x1="567.3" y1="476.5" x2="567.3" y2="478.8" stroke="#4a4a4a" stroke-width="0.9" />
<line x1="572.7" y1="476.5" x2="572.7" y2="478.8" stroke="#4a4a4a" stroke-width="0.9" />
<line x1="577.3" y1="476.5" x2="577.3" y2="478.8" stroke="#4a4a4a" stroke-width="0.9" />
<line x1="581.2" y1="476.5" x2="581.2" y2="478.8" stroke="#4a4a4a" stroke-width="0.9" />
<line x1="584.7" y1="476.5" x2="584.7" y2="478.8" stroke="#4a4a4a" stroke-width="0.9" />
<line x1="587.8" y1="476.5" x2="587.8" y2="480.1" stroke="#4a4a4a" stroke-width="1.1" />
<text x="382.7" y="493.6" font-size="10.3" fill="#101010" text-anchor="middle" >1</text>
<text x="450.8" y="493.6" font-size="10.3" fill="#101010" text-anchor="middle" >10</text>
<text x="518.9" y="493.6" font-size="10.3" fill="#101010" text-anchor="middle" >100</text>
<text x="587.0" y="493.6" font-size="10.3" fill="#101010" text-anchor="middle" >1000</text>
<text x="454.0" y="514.0" font-size="14" fill="#101010" text-anchor="start" textLength="62.6" lengthAdjust="spacingAndGlyphs">Dose (μM)</text>
<text transform="translate(341.1 381.4) rotate(-90)" font-size="14.5" fill="#101010" text-anchor="middle">% Control</text>
<line x1="391.9" y1="307.3" x2="416.6" y2="307.3" stroke="#666" stroke-width="1.1" />
<rect x="401" y="304.3" width="6" height="6" fill="#464646"/>
<text x="422.0" y="309.3" font-size="10.5" fill="#101010" text-anchor="start" >D-serine</text>
<line x1="391.9" y1="320.8" x2="416.6" y2="320.8" stroke="#666" stroke-width="1.1" />
<circle cx="404" cy="320.8" r="3.2" fill="#fff" stroke="#858585" stroke-width="1.2"/>
<text x="422.0" y="321.5" font-size="10.5" fill="#101010" text-anchor="start" >Glycine</text>
<line x1="383.5" y1="433.0" x2="383.5" y2="409.4" stroke="#bcbcbc" stroke-width="0.9" />
<line x1="382.6" y1="409.4" x2="384.4" y2="409.4" stroke="#bcbcbc" stroke-width="0.9" />
<line x1="451.6" y1="376.9" x2="451.6" y2="344.5" stroke="#bcbcbc" stroke-width="0.9" />
<line x1="450.7" y1="344.5" x2="452.5" y2="344.5" stroke="#bcbcbc" stroke-width="0.9" />
<line x1="519.7" y1="352.6" x2="519.7" y2="316.2" stroke="#bcbcbc" stroke-width="0.9" />
<line x1="518.8" y1="316.2" x2="520.6" y2="316.2" stroke="#bcbcbc" stroke-width="0.9" />
<line x1="451.6" y1="438.0" x2="451.6" y2="463.0" stroke="#bcbcbc" stroke-width="0.9" />
<line x1="450.7" y1="463.0" x2="452.5" y2="463.0" stroke="#bcbcbc" stroke-width="0.9" />
<line x1="519.7" y1="424.4" x2="519.7" y2="458.6" stroke="#bcbcbc" stroke-width="0.9" />
<line x1="518.8" y1="458.6" x2="520.6" y2="458.6" stroke="#bcbcbc" stroke-width="0.9" />
<line x1="587.8" y1="360.8" x2="587.8" y2="406.0" stroke="#bcbcbc" stroke-width="0.9" />
<line x1="586.9" y1="406.0" x2="588.7" y2="406.0" stroke="#bcbcbc" stroke-width="0.9" />
<path d="M383.5 433.0 L451.6 376.9 L519.7 352.6" fill="none" stroke="#5c5c5c" stroke-width="1.4" stroke-linejoin="round" stroke-linecap="round" />
<path d="M451.6 438.0 L519.7 424.4 L587.8 360.8" fill="none" stroke="#5c5c5c" stroke-width="1.4" stroke-linejoin="round" stroke-linecap="round" />
<rect x="380.5" y="430.0" width="6" height="6" fill="#464646"/>
<rect x="448.6" y="373.9" width="6" height="6" fill="#464646"/>
<rect x="516.7" y="349.6" width="6" height="6" fill="#464646"/>
<circle cx="451.6" cy="438.0" r="3.2" fill="#fff" stroke="#858585" stroke-width="1.2"/>
<circle cx="519.7" cy="424.4" r="3.2" fill="#fff" stroke="#858585" stroke-width="1.2"/>
<circle cx="587.8" cy="360.8" r="3.2" fill="#fff" stroke="#858585" stroke-width="1.2"/>
</svg>
</body>
</html>
